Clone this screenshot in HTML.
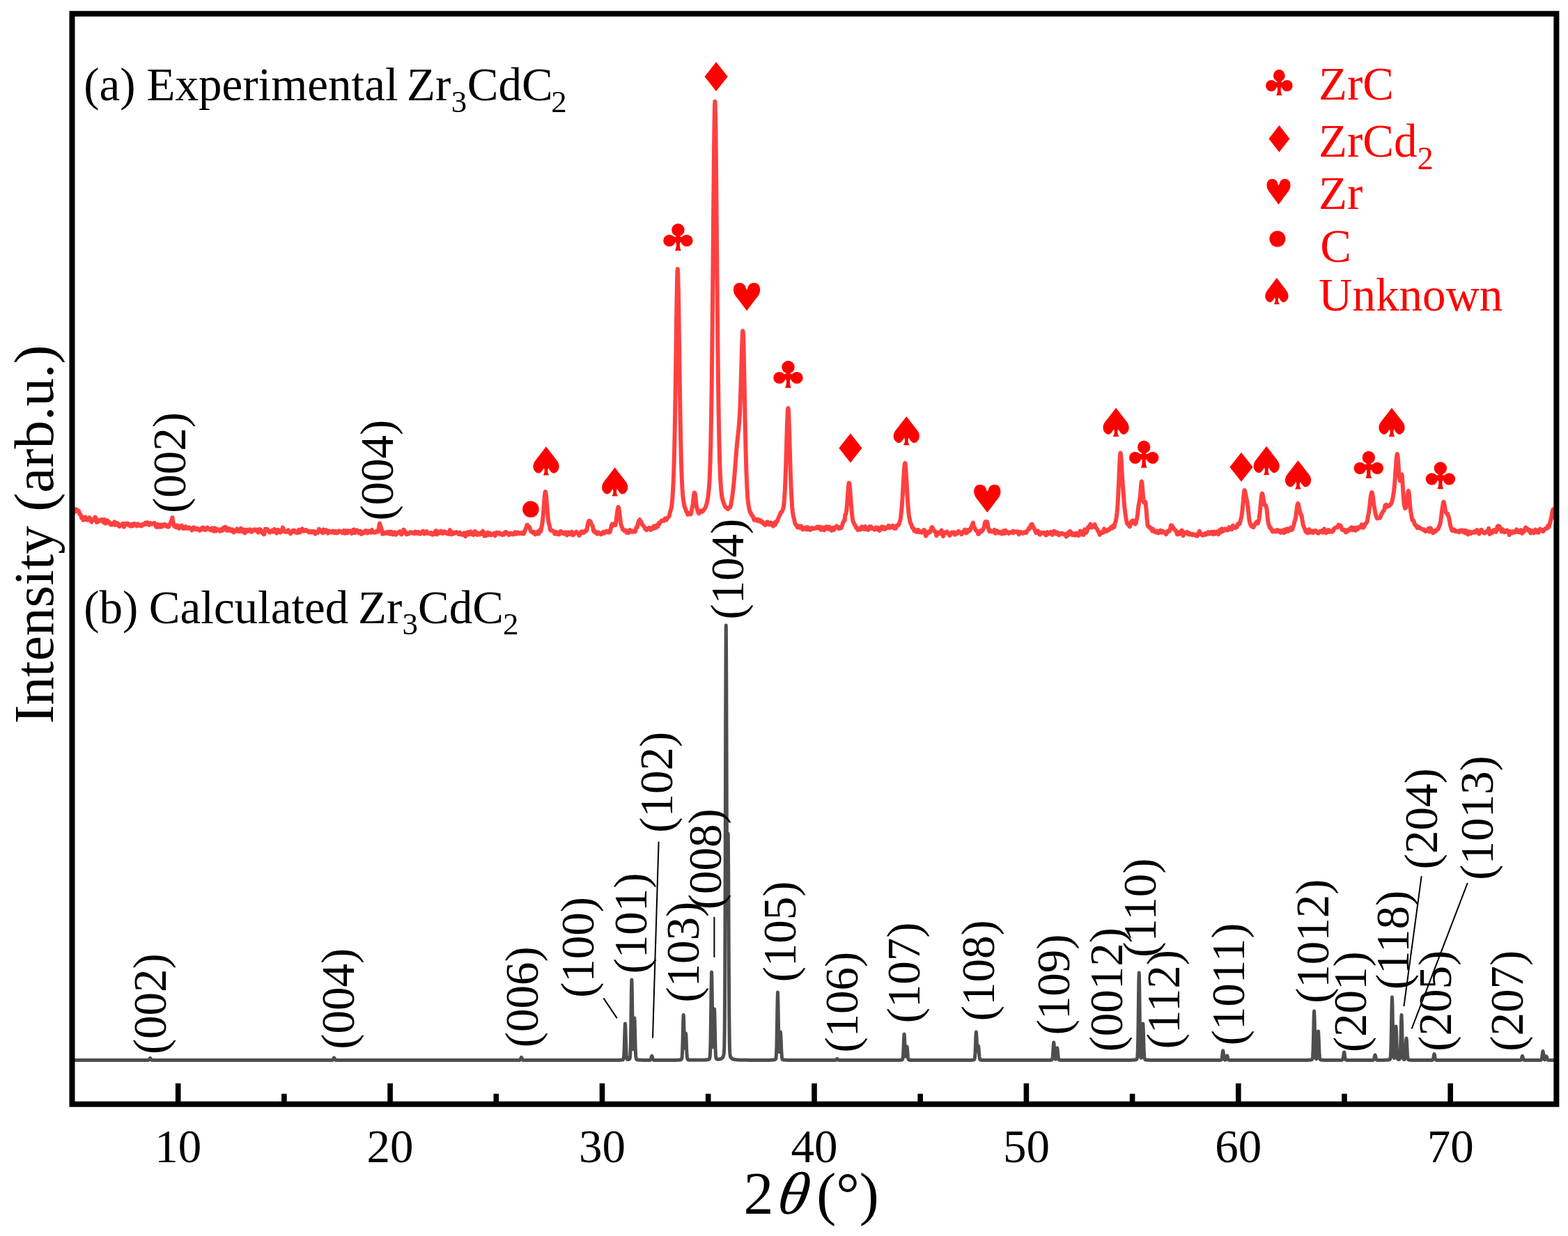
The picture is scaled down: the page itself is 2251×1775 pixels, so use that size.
<!DOCTYPE html><html><head><meta charset="utf-8"><title>XRD Zr3CdC2</title><style>html,body{margin:0;padding:0;background:#fff;}svg{display:block;}text{font-family:"Liberation Serif", serif;}</style></head><body>
<svg width="2251" height="1775" viewBox="0 0 2251 1775">
<rect width="2251" height="1775" fill="#ffffff"/>
<path d="M103.5 1522.5L107.5 1522.5L111.5 1522.5L115.5 1522.5L119.5 1522.5L123.5 1522.5L127.5 1522.5L131.5 1522.5L135.5 1522.5L139.5 1522.5L143.5 1522.5L147.5 1522.5L151.5 1522.5L155.5 1522.5L159.5 1522.5L163.5 1522.5L167.5 1522.5L171.5 1522.5L175.5 1522.5L179.5 1522.5L183.5 1522.5L187.5 1522.5L191.5 1522.5L195.5 1522.5L199.5 1522.5L201.6 1522.5L202.1 1522.5L202.6 1522.5L203.1 1522.5L203.5 1522.5L203.6 1522.5L204.1 1522.5L204.6 1522.5L205.1 1522.5L205.6 1522.5L206.1 1522.5L206.6 1522.5L207.1 1522.5L207.5 1522.5L207.6 1522.5L208.1 1522.5L208.6 1522.5L209.1 1522.5L209.6 1522.5L210.1 1522.5L210.6 1522.5L211.1 1522.5L211.5 1522.5L211.6 1522.5L212.1 1522.5L212.6 1522.5L213.1 1522.4L213.6 1522.2L214.1 1521.8L214.6 1521.0L215.1 1520.0L215.5 1519.5L215.6 1519.5L216.1 1520.0L216.6 1521.0L217.1 1521.8L217.6 1522.2L218.1 1522.4L218.6 1522.5L219.1 1522.5L219.5 1522.5L219.6 1522.5L220.1 1522.5L220.6 1522.5L221.1 1522.5L221.6 1522.5L222.1 1522.5L222.6 1522.5L223.1 1522.5L223.5 1522.5L223.6 1522.5L224.1 1522.5L224.6 1522.5L225.1 1522.5L225.6 1522.5L226.1 1522.5L226.6 1522.5L227.1 1522.5L227.5 1522.5L227.6 1522.5L228.1 1522.5L228.6 1522.5L229.1 1522.5L229.6 1522.5L231.5 1522.5L235.5 1522.5L239.5 1522.5L243.5 1522.5L247.5 1522.5L251.5 1522.5L255.5 1522.5L259.5 1522.5L263.5 1522.5L267.5 1522.5L271.5 1522.5L275.5 1522.5L279.5 1522.5L283.5 1522.5L287.5 1522.5L291.5 1522.5L295.5 1522.5L299.5 1522.5L303.5 1522.5L307.5 1522.5L311.5 1522.5L315.5 1522.5L319.5 1522.5L323.5 1522.5L327.5 1522.5L331.5 1522.5L335.5 1522.5L339.5 1522.5L343.5 1522.5L347.5 1522.5L351.5 1522.5L355.5 1522.5L359.5 1522.5L363.5 1522.5L367.5 1522.5L371.5 1522.5L375.5 1522.5L379.5 1522.5L383.5 1522.5L387.5 1522.5L391.5 1522.5L395.5 1522.5L399.5 1522.5L403.5 1522.5L407.5 1522.5L411.5 1522.5L415.5 1522.5L419.5 1522.5L423.5 1522.5L427.5 1522.5L431.5 1522.5L435.5 1522.5L439.5 1522.5L443.5 1522.5L447.5 1522.5L451.5 1522.5L455.5 1522.5L459.5 1522.5L463.5 1522.5L465.6 1522.5L466.1 1522.5L466.6 1522.5L467.1 1522.5L467.5 1522.5L467.6 1522.5L468.1 1522.5L468.6 1522.5L469.1 1522.5L469.6 1522.5L470.1 1522.5L470.6 1522.5L471.1 1522.5L471.5 1522.5L471.6 1522.5L472.1 1522.5L472.6 1522.5L473.1 1522.5L473.6 1522.5L474.1 1522.5L474.6 1522.5L475.1 1522.5L475.5 1522.5L475.6 1522.5L476.1 1522.5L476.6 1522.4L477.1 1522.4L477.6 1522.2L478.1 1521.7L478.6 1520.7L479.1 1519.6L479.5 1519.0L479.6 1519.0L480.1 1519.6L480.6 1520.7L481.1 1521.7L481.6 1522.2L482.1 1522.4L482.6 1522.4L483.1 1522.5L483.5 1522.5L483.6 1522.5L484.1 1522.5L484.6 1522.5L485.1 1522.5L485.6 1522.5L486.1 1522.5L486.6 1522.5L487.1 1522.5L487.5 1522.5L487.6 1522.5L488.1 1522.5L488.6 1522.5L489.1 1522.5L489.6 1522.5L490.1 1522.5L490.6 1522.5L491.1 1522.5L491.5 1522.5L491.6 1522.5L492.1 1522.5L492.6 1522.5L493.1 1522.5L493.6 1522.5L495.5 1522.5L499.5 1522.5L503.5 1522.5L507.5 1522.5L511.5 1522.5L515.5 1522.5L519.5 1522.5L523.5 1522.5L527.5 1522.5L531.5 1522.5L535.5 1522.5L539.5 1522.5L543.5 1522.5L547.5 1522.5L551.5 1522.5L555.5 1522.5L559.5 1522.5L563.5 1522.5L567.5 1522.5L571.5 1522.5L575.5 1522.5L579.5 1522.5L583.5 1522.5L587.5 1522.5L591.5 1522.5L595.5 1522.5L599.5 1522.5L603.5 1522.5L607.5 1522.5L611.5 1522.5L615.5 1522.5L619.5 1522.5L623.5 1522.5L627.5 1522.5L631.5 1522.5L635.5 1522.5L639.5 1522.5L643.5 1522.5L647.5 1522.5L651.5 1522.5L655.5 1522.5L659.5 1522.5L663.5 1522.5L667.5 1522.5L671.5 1522.5L675.5 1522.5L679.5 1522.5L683.5 1522.5L687.5 1522.5L691.5 1522.5L695.5 1522.5L699.5 1522.5L703.5 1522.5L707.5 1522.5L711.5 1522.5L715.5 1522.5L719.5 1522.5L723.5 1522.5L727.5 1522.5L731.5 1522.5L734.5 1522.5L735.0 1522.5L735.5 1522.5L736.0 1522.5L736.5 1522.5L737.0 1522.5L737.5 1522.5L738.0 1522.5L738.5 1522.5L739.0 1522.5L739.5 1522.5L740.0 1522.5L740.5 1522.5L741.0 1522.5L741.5 1522.5L742.0 1522.5L742.5 1522.5L743.0 1522.5L743.5 1522.5L744.0 1522.5L744.5 1522.5L745.0 1522.5L745.5 1522.4L746.0 1522.4L746.5 1522.2L747.0 1521.6L747.5 1520.4L748.0 1519.1L748.5 1518.5L749.0 1519.1L749.5 1520.4L750.0 1521.6L750.5 1522.2L751.0 1522.4L751.5 1522.4L752.0 1522.5L752.5 1522.5L753.0 1522.5L753.5 1522.5L754.0 1522.5L754.5 1522.5L755.0 1522.5L755.5 1522.5L756.0 1522.5L756.5 1522.5L757.0 1522.5L757.5 1522.5L758.0 1522.5L758.5 1522.5L759.0 1522.5L759.5 1522.5L760.0 1522.5L760.5 1522.5L761.0 1522.5L761.5 1522.5L762.0 1522.5L762.5 1522.5L763.5 1522.5L767.5 1522.5L771.5 1522.5L775.5 1522.5L779.5 1522.5L783.5 1522.5L787.5 1522.5L791.5 1522.5L795.5 1522.5L799.5 1522.5L803.5 1522.5L807.5 1522.5L811.5 1522.5L815.5 1522.5L819.5 1522.5L823.5 1522.5L827.5 1522.5L831.5 1522.5L835.5 1522.5L839.5 1522.5L843.5 1522.5L847.5 1522.5L851.5 1522.5L855.5 1522.5L859.5 1522.5L863.5 1522.5L867.5 1522.5L871.5 1522.5L875.5 1522.5L879.5 1522.4L883.5 1522.4L884.0 1522.4L884.5 1522.4L885.0 1522.4L885.5 1522.4L886.0 1522.4L886.5 1522.4L887.0 1522.4L887.5 1522.4L888.0 1522.4L888.5 1522.4L889.0 1522.3L889.5 1522.3L890.0 1522.3L890.5 1522.3L891.0 1522.3L891.5 1522.2L892.0 1522.2L892.5 1522.1L892.9 1522.1L893.0 1522.1L893.4 1522.0L893.5 1522.0L893.9 1521.9L894.0 1521.9L894.4 1521.7L894.5 1521.6L894.9 1521.0L895.0 1520.7L895.4 1518.7L895.5 1517.9L895.9 1512.2L896.0 1510.1L896.4 1498.9L896.5 1495.5L896.8 1484.9L896.9 1481.4L897.0 1478.3L897.3 1471.5L897.4 1470.4L897.5 1470.0L897.8 1473.2L897.9 1475.5L898.0 1478.3L898.3 1488.3L898.4 1491.9L898.5 1495.4L898.8 1504.9L898.9 1507.6L899.0 1509.9L899.3 1515.4L899.4 1516.6L899.5 1517.7L899.8 1519.8L899.9 1520.2L900.0 1520.5L900.3 1521.1L900.4 1521.2L900.5 1521.3L900.8 1521.5L900.9 1521.5L901.0 1521.5L901.3 1521.5L901.4 1521.5L901.5 1521.5L901.8 1521.5L901.9 1521.5L902.0 1521.5L902.3 1521.5L902.4 1521.5L902.5 1521.4L902.8 1521.3L902.9 1521.3L903.0 1521.3L903.3 1521.1L903.4 1521.1L903.5 1521.0L903.8 1520.7L903.9 1520.5L904.0 1520.3L904.3 1519.2L904.4 1518.6L904.5 1517.9L904.8 1514.2L904.9 1512.3L905.0 1509.9L905.3 1499.8L905.4 1495.2L905.5 1489.9L905.8 1470.6L905.9 1463.1L906.0 1455.4L906.3 1432.2L906.4 1425.3L906.5 1419.1L906.8 1407.8L906.9 1407.0L907.0 1407.8L907.3 1419.0L907.4 1425.0L907.5 1431.9L907.8 1454.8L907.9 1462.5L908.0 1469.8L908.3 1488.4L908.4 1493.3L908.5 1497.4L908.8 1505.1L908.9 1506.2L909.0 1506.7L909.3 1504.2L909.4 1502.2L909.5 1499.8L909.8 1490.0L909.9 1486.2L910.0 1482.3L910.3 1471.1L910.4 1468.0L910.5 1465.5L910.8 1462.0L910.9 1462.5L911.0 1463.7L911.3 1471.6L911.4 1475.2L911.5 1479.1L911.8 1491.3L911.9 1495.2L912.3 1508.0L912.4 1510.4L912.8 1516.9L912.9 1517.9L913.3 1520.3L913.4 1520.6L913.8 1521.3L913.9 1521.4L914.3 1521.6L914.4 1521.7L914.8 1521.8L914.9 1521.8L915.3 1521.9L915.4 1521.9L915.5 1522.0L915.8 1522.0L915.9 1522.0L916.3 1522.1L916.4 1522.1L916.8 1522.1L916.9 1522.1L917.3 1522.2L917.4 1522.2L917.8 1522.2L917.9 1522.2L918.3 1522.2L918.4 1522.2L918.8 1522.3L918.9 1522.3L919.3 1522.3L919.4 1522.3L919.5 1522.3L919.8 1522.3L919.9 1522.3L920.3 1522.3L920.4 1522.3L920.8 1522.3L920.9 1522.3L921.3 1522.3L921.8 1522.3L922.3 1522.4L922.8 1522.4L923.3 1522.4L923.5 1522.4L923.8 1522.4L924.3 1522.4L924.8 1522.4L925.3 1522.4L925.8 1522.4L926.3 1522.4L926.8 1522.4L927.3 1522.4L927.5 1522.4L927.8 1522.4L928.3 1522.4L928.8 1522.4L929.3 1522.4L929.8 1522.4L930.3 1522.4L930.8 1522.4L931.3 1522.4L931.5 1522.4L931.8 1522.4L932.3 1522.4L932.8 1522.4L933.3 1522.3L933.8 1521.9L934.3 1521.0L934.8 1519.4L935.3 1517.4L935.5 1516.9L935.8 1516.5L936.3 1517.4L936.8 1519.4L937.3 1521.1L937.8 1521.9L938.3 1522.3L938.8 1522.4L939.3 1522.4L939.5 1522.4L939.8 1522.4L940.3 1522.4L940.8 1522.4L941.3 1522.4L941.8 1522.4L942.3 1522.4L942.8 1522.4L943.3 1522.4L943.5 1522.4L943.8 1522.4L944.3 1522.4L944.8 1522.4L945.3 1522.4L945.8 1522.4L946.3 1522.4L946.8 1522.4L947.3 1522.4L947.5 1522.4L947.8 1522.4L948.3 1522.4L948.8 1522.5L949.3 1522.5L949.8 1522.5L951.5 1522.5L955.5 1522.4L959.5 1522.4L963.5 1522.4L967.2 1522.4L967.5 1522.4L967.7 1522.4L968.2 1522.4L968.7 1522.4L969.2 1522.4L969.7 1522.4L970.2 1522.4L970.5 1522.4L970.7 1522.4L971.0 1522.4L971.2 1522.4L971.5 1522.3L971.7 1522.3L972.0 1522.3L972.2 1522.3L972.5 1522.3L972.7 1522.3L973.0 1522.3L973.2 1522.3L973.5 1522.3L973.7 1522.3L974.0 1522.3L974.2 1522.3L974.5 1522.2L974.7 1522.2L975.0 1522.2L975.2 1522.2L975.5 1522.2L975.7 1522.1L976.0 1522.1L976.2 1522.1L976.5 1522.0L976.7 1522.0L977.0 1521.9L977.2 1521.9L977.5 1521.8L977.7 1521.7L978.0 1521.6L978.2 1521.4L978.5 1520.9L978.7 1520.3L979.0 1518.7L979.2 1516.7L979.5 1511.9L979.7 1507.1L980.0 1497.2L980.2 1489.1L980.5 1475.9L980.7 1467.8L981.0 1459.3L981.2 1457.5L981.5 1461.3L981.7 1467.4L982.0 1479.4L982.2 1487.6L982.5 1497.8L982.7 1502.4L983.0 1505.2L983.2 1504.4L983.5 1500.1L983.7 1496.0L984.0 1489.5L984.2 1486.1L984.5 1484.0L984.7 1485.1L985.0 1490.2L985.2 1494.9L985.5 1502.7L985.7 1507.4L986.0 1513.3L986.2 1516.1L986.5 1518.9L986.7 1520.1L987.0 1521.0L987.2 1521.4L987.5 1521.7L987.7 1521.8L988.0 1521.9L988.2 1522.0L988.5 1522.0L988.7 1522.0L989.0 1522.1L989.2 1522.1L989.5 1522.1L989.7 1522.2L990.0 1522.2L990.2 1522.2L990.5 1522.2L990.7 1522.2L991.0 1522.2L991.2 1522.2L991.5 1522.3L991.7 1522.3L992.0 1522.3L992.2 1522.3L992.5 1522.3L992.7 1522.3L993.0 1522.3L993.2 1522.3L993.5 1522.3L993.7 1522.3L994.0 1522.3L994.2 1522.3L994.5 1522.3L994.7 1522.3L995.0 1522.3L995.2 1522.3L995.5 1522.3L996.0 1522.3L996.5 1522.3L997.0 1522.3L997.5 1522.3L998.0 1522.3L998.5 1522.3L999.5 1522.3L1003.5 1522.3L1007.5 1522.3L1007.6 1522.3L1008.1 1522.3L1008.6 1522.3L1009.1 1522.2L1009.6 1522.2L1010.1 1522.2L1010.6 1522.2L1011.1 1522.2L1011.5 1522.2L1011.6 1522.2L1012.0 1522.1L1012.1 1522.1L1012.5 1522.1L1012.6 1522.1L1013.0 1522.1L1013.1 1522.1L1013.5 1522.1L1013.6 1522.0L1014.0 1522.0L1014.1 1522.0L1014.5 1522.0L1014.6 1522.0L1015.0 1521.9L1015.1 1521.9L1015.5 1521.8L1015.6 1521.8L1016.0 1521.7L1016.1 1521.7L1016.5 1521.6L1016.6 1521.6L1017.0 1521.5L1017.1 1521.5L1017.5 1521.3L1017.6 1521.2L1018.0 1521.0L1018.1 1520.9L1018.5 1520.5L1018.6 1520.3L1019.0 1518.8L1019.1 1518.2L1019.5 1513.3L1019.6 1511.2L1020.0 1497.5L1020.1 1492.5L1020.5 1465.6L1020.6 1457.4L1021.0 1423.6L1021.1 1416.0L1021.5 1396.9L1021.6 1396.0L1022.0 1409.0L1022.1 1415.7L1022.5 1448.2L1022.6 1456.5L1023.0 1484.8L1023.1 1490.0L1023.5 1502.6L1023.6 1503.7L1024.0 1500.6L1024.1 1498.1L1024.5 1483.1L1024.6 1478.4L1025.0 1460.1L1025.1 1456.3L1025.5 1449.0L1025.6 1449.5L1026.0 1460.6L1026.1 1465.0L1026.5 1484.4L1026.6 1489.1L1027.0 1504.6L1027.1 1507.5L1027.5 1515.4L1027.6 1516.6L1028.0 1519.4L1028.1 1519.8L1028.3 1520.3L1028.5 1520.6L1028.6 1520.7L1028.8 1520.8L1029.0 1520.9L1029.1 1521.0L1029.3 1521.0L1029.5 1521.1L1029.6 1521.1L1029.8 1521.1L1030.0 1521.2L1030.1 1521.2L1030.3 1521.2L1030.5 1521.2L1030.6 1521.2L1030.8 1521.2L1031.0 1521.2L1031.1 1521.2L1031.2 1521.2L1031.3 1521.2L1031.5 1521.2L1031.6 1521.2L1031.7 1521.2L1031.8 1521.2L1032.0 1521.2L1032.1 1521.2L1032.2 1521.2L1032.3 1521.2L1032.5 1521.1L1032.6 1521.1L1032.7 1521.1L1032.8 1521.1L1033.0 1521.1L1033.1 1521.1L1033.2 1521.0L1033.3 1521.0L1033.5 1521.0L1033.6 1520.9L1033.7 1520.9L1033.8 1520.9L1034.0 1520.8L1034.1 1520.8L1034.2 1520.8L1034.3 1520.8L1034.5 1520.7L1034.6 1520.7L1034.7 1520.6L1034.8 1520.6L1035.0 1520.5L1035.1 1520.5L1035.2 1520.4L1035.3 1520.4L1035.5 1520.3L1035.6 1520.2L1035.7 1520.2L1035.8 1520.1L1036.0 1520.0L1036.2 1519.8L1036.3 1519.8L1036.5 1519.6L1036.7 1519.4L1036.8 1519.3L1037.0 1519.1L1037.2 1518.9L1037.3 1518.8L1037.5 1518.5L1037.7 1518.2L1037.8 1518.0L1038.0 1517.7L1038.2 1517.3L1038.3 1517.0L1038.5 1516.5L1038.7 1515.9L1038.8 1515.5L1039.0 1514.5L1039.2 1513.2L1039.3 1512.2L1039.5 1509.6L1039.7 1505.2L1039.8 1502.0L1040.2 1477.8L1040.3 1467.6L1040.7 1400.1L1040.8 1375.3L1041.2 1242.4L1041.3 1202.2L1041.7 1035.4L1041.8 997.9L1042.2 902.9L1042.3 898.0L1042.7 958.5L1042.8 989.4L1043.2 1135.9L1043.3 1171.1L1043.5 1232.0L1043.7 1275.1L1043.8 1288.9L1044.2 1294.8L1044.3 1286.2L1044.7 1234.0L1044.8 1221.2L1045.2 1197.0L1045.3 1200.3L1045.7 1250.7L1045.8 1270.1L1046.2 1355.9L1046.3 1376.5L1046.7 1444.7L1046.8 1457.5L1047.2 1492.2L1047.3 1497.6L1047.5 1505.3L1047.7 1510.2L1047.8 1511.9L1048.2 1515.7L1048.3 1516.2L1048.7 1517.6L1048.8 1517.8L1049.2 1518.5L1049.3 1518.7L1049.7 1519.2L1049.8 1519.3L1050.2 1519.7L1050.3 1519.8L1050.7 1520.1L1050.8 1520.2L1051.2 1520.4L1051.3 1520.5L1051.5 1520.6L1051.7 1520.7L1051.8 1520.7L1052.2 1520.9L1052.3 1520.9L1052.7 1521.1L1052.8 1521.1L1053.2 1521.2L1053.3 1521.2L1053.7 1521.3L1053.8 1521.4L1054.2 1521.4L1054.3 1521.5L1054.7 1521.5L1054.8 1521.6L1055.2 1521.6L1055.3 1521.6L1055.5 1521.7L1055.7 1521.7L1055.8 1521.7L1056.2 1521.7L1056.3 1521.8L1056.7 1521.8L1057.2 1521.9L1057.7 1521.9L1058.2 1521.9L1058.7 1522.0L1059.2 1522.0L1059.5 1522.0L1063.5 1522.2L1067.5 1522.3L1071.5 1522.3L1075.5 1522.4L1079.5 1522.4L1083.5 1522.4L1087.5 1522.4L1091.5 1522.4L1095.5 1522.4L1099.5 1522.4L1102.5 1522.4L1103.0 1522.4L1103.5 1522.4L1104.0 1522.4L1104.5 1522.4L1105.0 1522.4L1105.5 1522.3L1106.0 1522.3L1106.5 1522.3L1107.0 1522.3L1107.5 1522.3L1108.0 1522.3L1108.5 1522.2L1109.0 1522.2L1109.5 1522.2L1110.0 1522.1L1110.5 1522.1L1111.0 1522.0L1111.5 1521.9L1112.0 1521.8L1112.5 1521.7L1113.0 1521.4L1113.5 1521.0L1114.0 1519.4L1114.5 1514.0L1115.0 1499.5L1115.5 1472.4L1116.0 1440.4L1116.5 1425.0L1117.0 1440.3L1117.5 1472.0L1118.0 1498.5L1118.5 1510.7L1119.0 1510.2L1119.5 1500.6L1120.0 1488.1L1120.5 1482.0L1121.0 1488.4L1121.5 1501.6L1122.0 1512.8L1122.5 1518.7L1123.0 1521.0L1123.5 1521.7L1124.0 1521.9L1124.5 1522.0L1125.0 1522.1L1125.5 1522.1L1126.0 1522.2L1126.5 1522.2L1127.0 1522.3L1127.5 1522.3L1128.0 1522.3L1128.5 1522.3L1129.0 1522.3L1129.5 1522.3L1130.0 1522.4L1130.5 1522.4L1131.0 1522.4L1131.5 1522.4L1132.0 1522.4L1132.5 1522.4L1133.0 1522.4L1133.5 1522.4L1134.0 1522.4L1134.5 1522.4L1135.5 1522.4L1139.5 1522.4L1143.5 1522.5L1147.5 1522.5L1151.5 1522.5L1155.5 1522.5L1159.5 1522.5L1163.5 1522.5L1167.5 1522.5L1171.5 1522.5L1175.5 1522.5L1179.5 1522.5L1183.5 1522.5L1187.5 1522.5L1187.8 1522.5L1188.3 1522.5L1188.8 1522.5L1189.3 1522.5L1189.8 1522.5L1190.3 1522.5L1190.8 1522.5L1191.3 1522.5L1191.5 1522.5L1191.8 1522.5L1192.3 1522.5L1192.8 1522.5L1193.3 1522.5L1193.8 1522.5L1194.3 1522.5L1194.8 1522.5L1195.3 1522.5L1195.5 1522.5L1195.8 1522.5L1196.3 1522.5L1196.8 1522.5L1197.3 1522.5L1197.8 1522.5L1198.3 1522.5L1198.8 1522.5L1199.3 1522.4L1199.5 1522.4L1199.8 1522.3L1200.3 1522.0L1200.8 1521.5L1201.3 1520.8L1201.8 1520.5L1202.3 1520.8L1202.8 1521.5L1203.3 1522.0L1203.5 1522.2L1203.8 1522.3L1204.3 1522.4L1204.8 1522.5L1205.3 1522.5L1205.8 1522.5L1206.3 1522.5L1206.8 1522.5L1207.3 1522.5L1207.5 1522.5L1207.8 1522.5L1208.3 1522.5L1208.8 1522.5L1209.3 1522.5L1209.8 1522.5L1210.3 1522.5L1210.8 1522.5L1211.3 1522.5L1211.5 1522.5L1211.8 1522.5L1212.3 1522.5L1212.8 1522.5L1213.3 1522.5L1213.8 1522.5L1214.3 1522.5L1214.8 1522.5L1215.3 1522.5L1215.5 1522.5L1215.8 1522.5L1219.5 1522.5L1223.5 1522.5L1227.5 1522.5L1231.5 1522.5L1235.5 1522.5L1239.5 1522.5L1243.5 1522.5L1247.5 1522.5L1251.5 1522.5L1255.5 1522.5L1259.5 1522.5L1263.5 1522.5L1267.5 1522.5L1271.5 1522.5L1275.5 1522.5L1279.5 1522.5L1283.5 1522.5L1284.1 1522.5L1284.6 1522.5L1285.1 1522.5L1285.6 1522.5L1286.1 1522.5L1286.6 1522.5L1287.1 1522.4L1287.5 1522.4L1287.6 1522.4L1288.0 1522.4L1288.1 1522.4L1288.5 1522.4L1288.6 1522.4L1289.0 1522.4L1289.1 1522.4L1289.5 1522.4L1289.6 1522.4L1290.0 1522.4L1290.1 1522.4L1290.5 1522.4L1290.6 1522.4L1291.0 1522.4L1291.1 1522.4L1291.5 1522.4L1291.6 1522.4L1292.0 1522.4L1292.1 1522.3L1292.5 1522.3L1292.6 1522.3L1293.0 1522.3L1293.1 1522.3L1293.5 1522.3L1293.6 1522.2L1294.0 1522.2L1294.1 1522.2L1294.5 1522.1L1294.6 1522.1L1295.0 1522.0L1295.1 1521.9L1295.5 1521.5L1295.6 1521.3L1296.0 1519.8L1296.1 1519.2L1296.5 1515.2L1296.6 1513.7L1297.0 1505.7L1297.1 1503.2L1297.5 1493.2L1297.6 1490.9L1298.0 1485.3L1298.1 1485.0L1298.5 1488.9L1298.6 1490.9L1299.0 1500.5L1299.1 1503.0L1299.5 1511.4L1299.6 1513.0L1300.0 1516.9L1300.1 1517.2L1300.5 1516.6L1300.6 1516.0L1301.0 1512.0L1301.1 1510.8L1301.5 1505.9L1301.6 1504.9L1302.0 1503.0L1302.1 1503.1L1302.5 1506.1L1302.6 1507.3L1303.0 1512.5L1303.1 1513.7L1303.5 1517.8L1303.6 1518.6L1304.0 1520.7L1304.1 1521.0L1304.5 1521.8L1304.6 1521.9L1305.0 1522.1L1305.1 1522.1L1305.5 1522.2L1305.6 1522.2L1306.0 1522.3L1306.1 1522.3L1306.5 1522.3L1306.6 1522.3L1307.0 1522.3L1307.1 1522.4L1307.5 1522.4L1307.6 1522.4L1308.0 1522.4L1308.1 1522.4L1308.5 1522.4L1308.6 1522.4L1309.0 1522.4L1309.1 1522.4L1309.5 1522.4L1309.6 1522.4L1310.0 1522.4L1310.1 1522.4L1310.5 1522.4L1310.6 1522.4L1311.0 1522.4L1311.1 1522.4L1311.5 1522.4L1311.6 1522.4L1312.0 1522.4L1312.1 1522.4L1312.5 1522.5L1313.0 1522.5L1313.5 1522.5L1314.0 1522.5L1314.5 1522.5L1315.0 1522.5L1315.5 1522.5L1316.0 1522.5L1319.5 1522.5L1323.5 1522.5L1327.5 1522.5L1331.5 1522.5L1335.5 1522.5L1339.5 1522.5L1343.5 1522.5L1347.5 1522.5L1351.5 1522.5L1355.5 1522.5L1359.5 1522.5L1363.5 1522.5L1367.5 1522.5L1371.5 1522.5L1375.5 1522.5L1379.5 1522.5L1383.5 1522.5L1387.4 1522.5L1387.5 1522.5L1387.9 1522.5L1388.4 1522.5L1388.9 1522.5L1389.4 1522.5L1389.9 1522.4L1390.4 1522.4L1390.5 1522.4L1390.9 1522.4L1391.0 1522.4L1391.4 1522.4L1391.5 1522.4L1391.9 1522.4L1392.0 1522.4L1392.4 1522.4L1392.5 1522.4L1392.9 1522.4L1393.0 1522.4L1393.4 1522.4L1393.5 1522.4L1393.9 1522.4L1394.0 1522.4L1394.4 1522.4L1394.5 1522.4L1394.9 1522.4L1395.0 1522.3L1395.4 1522.3L1395.5 1522.3L1395.9 1522.3L1396.0 1522.3L1396.4 1522.3L1396.5 1522.3L1396.9 1522.2L1397.0 1522.2L1397.4 1522.2L1397.5 1522.1L1397.9 1522.1L1398.0 1522.0L1398.4 1521.8L1398.5 1521.8L1398.9 1521.2L1399.0 1520.9L1399.4 1518.9L1399.5 1518.1L1399.9 1513.0L1400.0 1511.1L1400.4 1501.7L1400.5 1499.0L1400.9 1488.4L1401.0 1486.3L1401.4 1482.0L1401.5 1482.3L1401.9 1488.1L1402.0 1490.4L1402.4 1500.5L1402.5 1502.7L1402.9 1509.2L1403.0 1510.0L1403.4 1510.1L1403.5 1509.5L1403.9 1505.7L1404.0 1504.7L1404.4 1502.1L1404.5 1502.0L1404.9 1504.2L1405.0 1505.3L1405.4 1510.6L1405.5 1512.0L1405.9 1516.7L1406.0 1517.6L1406.4 1520.2L1406.5 1520.6L1406.9 1521.6L1407.0 1521.7L1407.4 1522.0L1407.5 1522.1L1407.9 1522.2L1408.0 1522.2L1408.4 1522.2L1408.5 1522.3L1408.9 1522.3L1409.0 1522.3L1409.4 1522.3L1409.5 1522.3L1409.9 1522.3L1410.0 1522.4L1410.4 1522.4L1410.5 1522.4L1410.9 1522.4L1411.0 1522.4L1411.4 1522.4L1411.5 1522.4L1411.9 1522.4L1412.0 1522.4L1412.4 1522.4L1412.5 1522.4L1412.9 1522.4L1413.0 1522.4L1413.4 1522.4L1413.5 1522.4L1413.9 1522.4L1414.0 1522.4L1414.4 1522.4L1414.5 1522.4L1414.9 1522.4L1415.0 1522.4L1415.4 1522.5L1415.5 1522.5L1416.0 1522.5L1416.5 1522.5L1417.0 1522.5L1417.5 1522.5L1418.0 1522.5L1418.5 1522.5L1419.5 1522.5L1423.5 1522.5L1427.5 1522.5L1431.5 1522.5L1435.5 1522.5L1439.5 1522.5L1443.5 1522.5L1447.5 1522.5L1451.5 1522.5L1455.5 1522.5L1459.5 1522.5L1463.5 1522.5L1467.5 1522.5L1471.5 1522.5L1475.5 1522.5L1479.5 1522.5L1483.5 1522.5L1487.5 1522.5L1491.5 1522.5L1495.5 1522.5L1498.8 1522.5L1499.3 1522.5L1499.5 1522.5L1499.8 1522.5L1500.3 1522.5L1500.8 1522.5L1501.3 1522.5L1501.8 1522.5L1502.3 1522.5L1502.8 1522.5L1503.3 1522.5L1503.5 1522.4L1503.7 1522.4L1503.8 1522.4L1504.2 1522.4L1504.3 1522.4L1504.7 1522.4L1504.8 1522.4L1505.2 1522.4L1505.3 1522.4L1505.7 1522.4L1505.8 1522.4L1506.2 1522.4L1506.3 1522.4L1506.7 1522.4L1506.8 1522.4L1507.2 1522.4L1507.3 1522.4L1507.5 1522.4L1507.7 1522.4L1507.8 1522.4L1508.2 1522.3L1508.3 1522.3L1508.7 1522.3L1508.8 1522.3L1509.2 1522.2L1509.3 1522.2L1509.7 1522.1L1509.8 1522.1L1510.2 1521.8L1510.3 1521.7L1510.7 1520.7L1510.8 1520.3L1511.2 1517.5L1511.3 1516.5L1511.5 1514.0L1511.7 1511.0L1511.8 1509.4L1512.2 1502.6L1512.3 1501.0L1512.7 1497.2L1512.8 1497.0L1513.2 1499.7L1513.3 1501.0L1513.7 1507.6L1513.8 1509.3L1514.2 1515.2L1514.3 1516.4L1514.7 1519.5L1514.8 1520.0L1515.2 1521.0L1515.3 1521.1L1515.5 1521.0L1515.7 1520.6L1515.8 1520.3L1516.2 1518.2L1516.3 1517.4L1516.7 1513.4L1516.8 1512.2L1517.2 1507.7L1517.3 1506.8L1517.7 1505.0L1517.8 1505.1L1518.2 1507.8L1518.3 1508.8L1518.7 1513.5L1518.8 1514.6L1519.2 1518.3L1519.3 1519.0L1519.5 1520.2L1519.7 1520.9L1519.8 1521.2L1520.2 1521.9L1520.3 1522.0L1520.7 1522.2L1520.8 1522.2L1521.2 1522.3L1521.3 1522.3L1521.7 1522.3L1521.8 1522.3L1522.2 1522.4L1522.3 1522.4L1522.7 1522.4L1522.8 1522.4L1523.2 1522.4L1523.3 1522.4L1523.5 1522.4L1523.7 1522.4L1523.8 1522.4L1524.2 1522.4L1524.3 1522.4L1524.7 1522.4L1524.8 1522.4L1525.2 1522.4L1525.3 1522.4L1525.7 1522.4L1525.8 1522.4L1526.2 1522.4L1526.3 1522.5L1526.7 1522.5L1526.8 1522.5L1527.2 1522.5L1527.5 1522.5L1527.7 1522.5L1528.2 1522.5L1528.7 1522.5L1529.2 1522.5L1529.7 1522.5L1530.2 1522.5L1530.7 1522.5L1531.2 1522.5L1531.5 1522.5L1531.7 1522.5L1535.5 1522.5L1539.5 1522.5L1543.5 1522.5L1547.5 1522.5L1551.5 1522.5L1555.5 1522.5L1559.5 1522.5L1563.5 1522.5L1567.5 1522.5L1571.5 1522.5L1575.5 1522.5L1579.5 1522.5L1583.5 1522.5L1587.5 1522.5L1591.5 1522.5L1595.5 1522.5L1599.5 1522.5L1603.5 1522.5L1607.5 1522.5L1611.5 1522.5L1615.5 1522.4L1619.5 1522.4L1621.2 1522.4L1621.7 1522.4L1622.2 1522.4L1622.7 1522.4L1623.2 1522.4L1623.5 1522.4L1623.7 1522.4L1624.2 1522.3L1624.7 1522.3L1625.2 1522.3L1625.7 1522.3L1626.2 1522.3L1626.7 1522.3L1626.8 1522.2L1627.2 1522.2L1627.3 1522.2L1627.5 1522.2L1627.7 1522.2L1627.8 1522.2L1628.2 1522.1L1628.3 1522.1L1628.7 1522.1L1628.8 1522.1L1629.2 1522.0L1629.3 1522.0L1629.7 1521.9L1629.8 1521.9L1630.2 1521.8L1630.3 1521.8L1630.7 1521.7L1630.8 1521.7L1631.2 1521.5L1631.3 1521.5L1631.5 1521.4L1631.7 1521.2L1631.8 1521.1L1632.2 1520.6L1632.3 1520.3L1632.7 1518.5L1632.8 1517.7L1633.2 1511.6L1633.3 1509.1L1633.7 1493.0L1633.8 1487.3L1634.2 1458.1L1634.3 1449.6L1634.7 1416.9L1634.8 1410.2L1635.2 1397.0L1635.3 1397.9L1635.5 1404.6L1635.7 1416.8L1635.8 1424.3L1636.2 1457.9L1636.3 1466.0L1636.7 1492.8L1636.8 1497.7L1637.2 1511.2L1637.3 1513.3L1637.7 1518.0L1637.8 1518.5L1638.2 1519.3L1638.3 1519.2L1638.7 1517.7L1638.8 1516.9L1639.2 1511.5L1639.3 1509.4L1639.5 1504.5L1639.7 1498.4L1639.8 1495.1L1640.2 1481.2L1640.3 1478.1L1640.7 1470.3L1640.8 1470.0L1641.2 1475.5L1641.3 1478.3L1641.7 1491.9L1641.8 1495.5L1642.2 1507.6L1642.3 1510.0L1642.7 1516.7L1642.8 1517.8L1643.2 1520.3L1643.3 1520.7L1643.5 1521.1L1643.7 1521.4L1643.8 1521.5L1644.2 1521.8L1644.3 1521.8L1644.7 1521.9L1644.8 1521.9L1645.2 1522.0L1645.3 1522.0L1645.7 1522.1L1645.8 1522.1L1646.2 1522.2L1646.3 1522.2L1646.7 1522.2L1646.8 1522.2L1647.2 1522.2L1647.3 1522.2L1647.5 1522.3L1647.7 1522.3L1647.8 1522.3L1648.2 1522.3L1648.3 1522.3L1648.7 1522.3L1648.8 1522.3L1649.2 1522.3L1649.3 1522.3L1649.8 1522.3L1650.3 1522.4L1650.8 1522.4L1651.3 1522.4L1651.5 1522.4L1651.8 1522.4L1652.3 1522.4L1652.8 1522.4L1653.3 1522.4L1653.8 1522.4L1654.3 1522.4L1654.8 1522.4L1655.5 1522.4L1659.5 1522.5L1663.5 1522.5L1667.5 1522.5L1671.5 1522.5L1675.5 1522.5L1679.5 1522.5L1683.5 1522.5L1687.5 1522.5L1691.5 1522.5L1695.5 1522.5L1699.5 1522.5L1703.5 1522.5L1707.5 1522.5L1711.5 1522.5L1715.5 1522.5L1719.5 1522.5L1723.5 1522.5L1727.5 1522.5L1731.5 1522.5L1735.5 1522.5L1739.5 1522.5L1741.7 1522.5L1742.2 1522.5L1742.7 1522.5L1743.2 1522.5L1743.5 1522.5L1743.7 1522.5L1744.2 1522.5L1744.7 1522.5L1745.2 1522.5L1745.7 1522.5L1746.2 1522.5L1746.7 1522.5L1747.2 1522.5L1747.5 1522.5L1747.6 1522.5L1747.7 1522.5L1748.1 1522.5L1748.2 1522.5L1748.6 1522.5L1748.7 1522.5L1749.1 1522.5L1749.2 1522.5L1749.6 1522.4L1749.7 1522.4L1750.1 1522.4L1750.2 1522.4L1750.6 1522.4L1750.7 1522.4L1751.1 1522.4L1751.2 1522.4L1751.5 1522.4L1751.6 1522.4L1751.7 1522.4L1752.1 1522.4L1752.2 1522.4L1752.6 1522.3L1752.7 1522.3L1753.1 1522.1L1753.2 1522.1L1753.6 1521.5L1753.7 1521.3L1754.1 1519.9L1754.2 1519.3L1754.6 1516.4L1754.7 1515.6L1755.1 1511.9L1755.2 1511.1L1755.5 1509.4L1755.6 1509.1L1755.7 1509.0L1756.1 1510.4L1756.2 1511.1L1756.6 1514.6L1756.7 1515.5L1757.1 1518.7L1757.2 1519.3L1757.6 1521.0L1757.7 1521.3L1758.1 1521.9L1758.2 1522.0L1758.6 1522.2L1758.7 1522.2L1759.1 1522.2L1759.2 1522.1L1759.5 1521.9L1759.6 1521.8L1759.7 1521.7L1760.1 1520.9L1760.2 1520.6L1760.6 1519.1L1760.7 1518.7L1761.1 1517.0L1761.2 1516.7L1761.6 1516.0L1761.7 1516.0L1762.1 1517.0L1762.2 1517.4L1762.6 1519.2L1762.7 1519.6L1763.1 1521.0L1763.2 1521.2L1763.5 1521.8L1763.6 1521.9L1763.7 1522.0L1764.1 1522.3L1764.2 1522.3L1764.6 1522.4L1764.7 1522.4L1765.1 1522.4L1765.2 1522.4L1765.6 1522.4L1765.7 1522.4L1766.1 1522.4L1766.2 1522.4L1766.6 1522.5L1766.7 1522.5L1767.1 1522.5L1767.2 1522.5L1767.5 1522.5L1767.6 1522.5L1767.7 1522.5L1768.1 1522.5L1768.2 1522.5L1768.6 1522.5L1768.7 1522.5L1769.1 1522.5L1769.2 1522.5L1769.6 1522.5L1769.7 1522.5L1770.1 1522.5L1770.6 1522.5L1771.1 1522.5L1771.5 1522.5L1771.6 1522.5L1772.1 1522.5L1772.6 1522.5L1773.1 1522.5L1773.6 1522.5L1774.1 1522.5L1774.6 1522.5L1775.1 1522.5L1775.5 1522.5L1775.6 1522.5L1779.5 1522.5L1783.5 1522.5L1787.5 1522.5L1791.5 1522.5L1795.5 1522.5L1799.5 1522.5L1803.5 1522.5L1807.5 1522.5L1811.5 1522.5L1815.5 1522.5L1819.5 1522.5L1823.5 1522.5L1827.5 1522.5L1831.5 1522.5L1835.5 1522.5L1839.5 1522.5L1843.5 1522.5L1847.5 1522.5L1851.5 1522.5L1855.5 1522.5L1859.5 1522.5L1863.5 1522.5L1867.5 1522.5L1871.5 1522.4L1872.6 1522.4L1873.1 1522.4L1873.6 1522.4L1874.1 1522.4L1874.6 1522.4L1875.1 1522.4L1875.5 1522.4L1875.6 1522.4L1876.1 1522.4L1876.6 1522.4L1877.1 1522.4L1877.6 1522.4L1878.1 1522.4L1878.5 1522.3L1878.6 1522.3L1879.0 1522.3L1879.1 1522.3L1879.5 1522.3L1879.6 1522.3L1880.0 1522.3L1880.1 1522.3L1880.5 1522.2L1880.6 1522.2L1881.0 1522.2L1881.1 1522.2L1881.5 1522.1L1881.6 1522.1L1882.0 1522.1L1882.1 1522.0L1882.5 1522.0L1882.6 1521.9L1883.0 1521.8L1883.1 1521.8L1883.5 1521.5L1883.6 1521.4L1884.0 1520.6L1884.1 1520.3L1884.5 1517.5L1884.6 1516.4L1885.0 1508.7L1885.1 1505.9L1885.5 1490.8L1885.6 1486.3L1886.0 1467.4L1886.1 1463.2L1886.5 1452.5L1886.6 1452.0L1887.0 1459.4L1887.1 1463.1L1887.5 1481.5L1887.6 1486.2L1888.0 1502.6L1888.1 1505.7L1888.5 1514.7L1888.6 1516.1L1889.0 1519.5L1889.1 1519.9L1889.5 1520.7L1889.6 1520.8L1890.0 1520.5L1890.1 1520.3L1890.5 1518.4L1890.6 1517.6L1891.0 1512.4L1891.1 1510.5L1891.5 1501.0L1891.6 1498.2L1892.0 1487.5L1892.1 1485.3L1892.5 1481.0L1892.6 1481.3L1893.0 1487.6L1893.1 1490.1L1893.5 1501.1L1893.6 1503.8L1894.0 1512.7L1894.1 1514.3L1894.5 1518.8L1894.6 1519.5L1895.0 1521.1L1895.1 1521.3L1895.5 1521.8L1895.6 1521.8L1896.0 1522.0L1896.1 1522.0L1896.5 1522.1L1896.6 1522.1L1897.0 1522.2L1897.1 1522.2L1897.5 1522.2L1897.6 1522.2L1898.0 1522.3L1898.1 1522.3L1898.5 1522.3L1898.6 1522.3L1899.0 1522.3L1899.1 1522.3L1899.5 1522.3L1899.6 1522.3L1900.0 1522.4L1900.1 1522.4L1900.5 1522.4L1900.6 1522.4L1901.0 1522.4L1901.5 1522.4L1902.0 1522.4L1902.5 1522.4L1903.0 1522.4L1903.5 1522.4L1904.0 1522.4L1904.5 1522.4L1905.0 1522.4L1905.5 1522.4L1906.0 1522.4L1906.5 1522.4L1907.5 1522.5L1911.5 1522.5L1915.5 1522.5L1915.6 1522.5L1916.1 1522.5L1916.6 1522.5L1917.1 1522.5L1917.6 1522.5L1918.1 1522.5L1918.6 1522.5L1919.1 1522.5L1919.5 1522.5L1919.6 1522.5L1920.1 1522.5L1920.6 1522.5L1921.1 1522.5L1921.6 1522.5L1922.1 1522.5L1922.6 1522.5L1923.1 1522.4L1923.5 1522.4L1923.6 1522.4L1924.1 1522.4L1924.6 1522.4L1925.1 1522.4L1925.6 1522.4L1926.1 1522.4L1926.6 1522.3L1927.1 1522.1L1927.5 1521.7L1927.6 1521.5L1928.1 1519.8L1928.6 1516.6L1929.1 1512.8L1929.6 1511.0L1930.1 1512.8L1930.6 1516.6L1931.1 1519.8L1931.5 1521.3L1931.6 1521.5L1932.1 1522.1L1932.6 1522.3L1933.1 1522.4L1933.6 1522.4L1934.1 1522.4L1934.6 1522.4L1935.1 1522.4L1935.5 1522.4L1935.6 1522.4L1936.1 1522.5L1936.6 1522.5L1937.1 1522.5L1937.6 1522.5L1938.1 1522.5L1938.6 1522.5L1939.1 1522.5L1939.5 1522.5L1939.6 1522.5L1940.1 1522.5L1940.6 1522.5L1941.1 1522.5L1941.6 1522.5L1942.1 1522.5L1942.6 1522.5L1943.1 1522.5L1943.5 1522.5L1943.6 1522.5L1947.5 1522.5L1951.5 1522.5L1955.5 1522.5L1959.5 1522.5L1960.0 1522.5L1960.5 1522.5L1961.0 1522.5L1961.5 1522.5L1962.0 1522.5L1962.5 1522.5L1963.0 1522.5L1963.5 1522.5L1964.0 1522.5L1964.5 1522.5L1965.0 1522.5L1965.5 1522.5L1966.0 1522.5L1966.5 1522.5L1967.0 1522.5L1967.5 1522.5L1968.0 1522.4L1968.5 1522.4L1969.0 1522.4L1969.5 1522.4L1970.0 1522.4L1970.5 1522.4L1971.0 1522.4L1971.5 1522.2L1972.0 1521.8L1972.5 1520.7L1973.0 1518.6L1973.5 1516.2L1974.0 1515.0L1974.5 1516.2L1975.0 1518.6L1975.5 1520.7L1976.0 1521.8L1976.5 1522.2L1977.0 1522.3L1977.5 1522.4L1978.0 1522.4L1978.5 1522.4L1979.0 1522.4L1979.5 1522.4L1980.0 1522.4L1980.5 1522.4L1981.0 1522.4L1981.5 1522.4L1982.0 1522.4L1982.5 1522.4L1983.0 1522.4L1983.5 1522.4L1984.0 1522.4L1984.5 1522.4L1985.0 1522.4L1985.5 1522.4L1986.0 1522.4L1986.5 1522.4L1987.0 1522.4L1987.5 1522.4L1988.0 1522.4L1988.5 1522.3L1989.0 1522.3L1989.5 1522.3L1990.0 1522.3L1990.5 1522.3L1991.0 1522.2L1991.5 1522.2L1992.0 1522.2L1992.5 1522.1L1993.0 1522.1L1993.5 1522.0L1994.0 1521.9L1994.5 1521.7L1995.0 1521.5L1995.5 1521.1L1996.0 1519.6L1996.5 1514.6L1997.0 1501.2L1997.5 1476.0L1998.0 1446.3L1998.5 1432.0L1999.0 1446.2L1999.5 1475.8L2000.0 1500.9L2000.5 1514.2L2001.0 1518.9L2001.5 1519.6L2002.0 1517.4L2002.5 1510.5L2003.0 1497.2L2003.5 1481.5L2004.0 1474.0L2004.5 1481.6L2005.0 1497.4L2005.5 1510.8L2006.0 1517.9L2006.5 1520.6L2007.0 1521.3L2007.5 1521.5L2008.0 1521.5L2008.5 1521.4L2009.0 1521.2L2009.5 1520.2L2010.0 1516.6L2010.5 1507.0L2011.0 1489.0L2011.5 1467.7L2012.0 1457.5L2012.5 1467.8L2013.0 1489.0L2013.5 1507.1L2014.0 1516.7L2014.5 1520.2L2015.0 1521.2L2015.5 1521.5L2016.0 1521.5L2016.5 1521.1L2017.0 1519.4L2017.5 1514.8L2018.0 1506.2L2018.5 1495.9L2019.0 1491.0L2019.5 1496.0L2020.0 1506.3L2020.5 1515.0L2021.0 1519.7L2021.5 1521.4L2022.0 1521.9L2022.5 1522.1L2023.0 1522.2L2023.5 1522.2L2024.0 1522.3L2024.5 1522.3L2025.0 1522.3L2025.5 1522.3L2026.0 1522.4L2026.5 1522.4L2027.0 1522.4L2027.5 1522.4L2028.0 1522.4L2028.5 1522.4L2029.0 1522.4L2029.5 1522.4L2030.0 1522.4L2030.5 1522.4L2031.0 1522.4L2031.5 1522.4L2032.0 1522.4L2032.5 1522.4L2033.0 1522.4L2035.5 1522.5L2039.5 1522.5L2043.5 1522.5L2045.0 1522.5L2045.5 1522.5L2046.0 1522.5L2046.5 1522.5L2047.0 1522.5L2047.5 1522.5L2048.0 1522.5L2048.5 1522.5L2049.0 1522.5L2049.5 1522.5L2050.0 1522.5L2050.5 1522.5L2051.0 1522.5L2051.5 1522.5L2052.0 1522.5L2052.5 1522.5L2053.0 1522.5L2053.5 1522.4L2054.0 1522.4L2054.5 1522.4L2055.0 1522.4L2055.5 1522.4L2056.0 1522.4L2056.5 1522.2L2057.0 1521.7L2057.5 1520.4L2058.0 1517.9L2058.5 1514.9L2059.0 1513.5L2059.5 1514.9L2060.0 1517.9L2060.5 1520.4L2061.0 1521.7L2061.5 1522.2L2062.0 1522.4L2062.5 1522.4L2063.0 1522.4L2063.5 1522.4L2064.0 1522.4L2064.5 1522.5L2065.0 1522.5L2065.5 1522.5L2066.0 1522.5L2066.5 1522.5L2067.0 1522.5L2067.5 1522.5L2068.0 1522.5L2068.5 1522.5L2069.0 1522.5L2069.5 1522.5L2070.0 1522.5L2070.5 1522.5L2071.0 1522.5L2071.5 1522.5L2072.0 1522.5L2072.5 1522.5L2073.0 1522.5L2075.5 1522.5L2079.5 1522.5L2083.5 1522.5L2087.5 1522.5L2091.5 1522.5L2095.5 1522.5L2099.5 1522.5L2103.5 1522.5L2107.5 1522.5L2111.5 1522.5L2115.5 1522.5L2119.5 1522.5L2123.5 1522.5L2127.5 1522.5L2131.5 1522.5L2135.5 1522.5L2139.5 1522.5L2143.5 1522.5L2147.5 1522.5L2151.5 1522.5L2155.5 1522.5L2159.5 1522.5L2163.5 1522.5L2167.5 1522.5L2171.5 1522.5L2172.0 1522.5L2172.5 1522.5L2173.0 1522.5L2173.5 1522.5L2174.0 1522.5L2174.5 1522.5L2175.0 1522.5L2175.5 1522.5L2176.0 1522.5L2176.5 1522.5L2177.0 1522.5L2177.5 1522.5L2178.0 1522.5L2178.5 1522.5L2179.0 1522.5L2179.5 1522.5L2180.0 1522.5L2180.5 1522.5L2181.0 1522.5L2181.5 1522.5L2182.0 1522.4L2182.5 1522.4L2183.0 1522.3L2183.5 1522.0L2184.0 1521.1L2184.5 1519.4L2185.0 1517.4L2185.5 1516.5L2186.0 1517.4L2186.5 1519.4L2187.0 1521.1L2187.5 1522.0L2188.0 1522.3L2188.5 1522.4L2189.0 1522.4L2189.5 1522.5L2190.0 1522.5L2190.5 1522.5L2191.0 1522.5L2191.5 1522.5L2192.0 1522.5L2192.5 1522.5L2193.0 1522.5L2193.5 1522.5L2194.0 1522.5L2194.5 1522.5L2195.0 1522.5L2195.5 1522.5L2196.0 1522.5L2196.5 1522.5L2197.0 1522.5L2197.5 1522.5L2198.0 1522.5L2198.5 1522.5L2199.0 1522.5L2199.5 1522.5L2201.0 1522.5L2201.5 1522.5L2202.0 1522.5L2202.5 1522.5L2203.0 1522.5L2203.5 1522.5L2204.0 1522.5L2204.5 1522.5L2205.0 1522.5L2205.5 1522.5L2206.0 1522.5L2206.5 1522.5L2207.0 1522.5L2207.5 1522.5L2208.0 1522.5L2208.5 1522.5L2209.0 1522.4L2209.5 1522.4L2210.0 1522.4L2210.5 1522.4L2211.0 1522.4L2211.5 1522.4L2212.0 1522.3L2212.5 1522.1L2213.0 1521.4L2213.5 1519.4L2214.0 1515.8L2214.5 1511.6L2215.0 1509.5L2215.5 1511.5L2216.0 1515.8L2216.5 1519.4L2217.0 1521.3L2217.5 1521.9L2218.0 1521.8L2218.5 1521.1L2219.0 1519.6L2219.5 1517.8L2220.0 1517.0L2220.5 1517.9L2221.0 1519.7L2221.5 1521.2L2222.0 1522.0L2222.5 1522.3L2223.0 1522.4L2223.5 1522.4L2224.0 1522.4L2224.5 1522.4L2225.0 1522.5L2225.5 1522.5L2226.0 1522.5L2226.5 1522.5L2227.0 1522.5L2227.5 1522.5L2228.0 1522.5L2228.5 1522.5L2229.0 1522.5L2229.5 1522.5L2230.0 1522.5L2230.5 1522.5L2231.0 1522.5L2231.5 1522.5L2232.0 1522.5L2232.5 1522.5L2233.0 1522.5L2233.5 1522.5L2234.0 1522.5" fill="none" stroke="#4e4e4e" stroke-width="5" stroke-linejoin="round" stroke-linecap="round"/>
<path d="M103.5 739.8L104.3 737.4L105.1 736.8L105.9 736.5L106.7 734.7L107.5 734.6L108.3 733.4L109.1 731.4L109.9 733.4L110.7 733.8L111.5 732.8L111.6 733.3L112.0 734.5L112.3 734.1L112.4 733.4L113.1 733.7L113.9 737.0L114.7 738.8L115.5 739.5L116.3 740.0L117.1 744.2L117.9 744.0L118.7 744.2L119.5 746.9L120.3 744.8L121.1 742.7L121.9 742.9L122.7 742.6L123.5 746.1L124.3 745.7L125.1 745.6L125.9 746.8L126.7 744.8L127.5 745.4L128.3 743.4L129.1 743.9L129.9 745.1L130.7 748.8L131.5 749.5L132.3 747.2L133.1 747.4L133.9 746.9L134.7 746.8L135.5 744.8L136.3 742.8L137.1 743.2L137.9 747.2L138.7 750.0L139.5 747.7L140.3 746.8L141.1 749.3L141.9 748.2L142.7 747.5L143.5 747.7L144.3 747.3L145.1 746.5L145.9 746.0L146.7 748.1L147.5 749.0L148.3 750.0L149.1 747.9L149.9 746.0L150.7 748.9L151.5 751.6L152.3 749.4L153.1 747.7L153.9 747.3L154.7 747.9L155.5 748.7L156.3 749.3L157.1 752.0L157.9 751.0L158.7 751.5L159.5 753.8L160.3 753.8L161.1 751.8L161.9 752.1L162.7 752.6L163.5 750.9L164.3 749.5L165.1 752.5L165.9 753.9L166.7 752.8L167.5 751.1L168.3 751.5L169.1 751.6L169.9 752.7L170.7 755.4L171.5 756.1L172.3 755.0L173.1 754.5L173.9 754.3L174.7 753.3L175.5 752.6L176.3 752.0L177.1 753.8L177.9 756.7L178.7 755.3L179.5 752.8L180.3 751.9L181.1 751.9L181.9 753.5L182.7 753.2L183.5 751.6L184.3 753.0L185.1 753.3L185.9 755.1L186.7 755.0L187.5 755.6L188.3 753.3L189.1 752.8L189.9 754.1L190.7 755.3L191.5 754.1L192.3 752.0L193.1 753.1L193.9 753.3L194.7 752.5L195.5 753.1L196.3 755.5L197.1 753.3L197.9 752.4L198.7 754.1L199.5 754.0L200.3 753.8L201.1 754.9L201.9 754.8L202.7 754.8L203.5 755.3L204.3 754.2L205.1 752.7L205.9 752.6L206.7 752.8L207.5 753.2L208.3 751.3L209.1 750.6L209.9 752.3L210.7 750.9L211.5 750.4L212.3 753.0L213.1 753.1L213.9 753.9L214.7 752.7L215.5 751.3L216.3 751.2L217.1 752.4L217.9 752.8L218.7 752.4L219.5 752.3L220.3 751.5L221.1 752.3L221.9 751.2L222.7 753.1L223.5 755.4L224.3 756.7L225.1 756.2L225.9 753.0L226.7 755.0L227.5 756.8L228.3 755.8L229.1 753.7L229.9 755.5L230.7 756.7L231.5 753.5L232.3 755.2L233.1 756.2L233.9 754.6L234.7 754.9L235.5 753.3L236.3 752.9L237.1 753.6L237.9 755.0L238.7 755.6L239.5 756.1L240.3 754.3L241.1 755.1L241.9 756.7L242.7 755.5L243.5 752.9L244.3 752.7L245.1 750.1L245.9 748.0L246.6 746.8L246.7 747.3L247.0 745.4L247.4 743.2L247.5 744.0L248.3 748.7L249.1 751.9L249.9 755.3L250.7 755.7L251.5 755.5L252.3 757.1L253.1 754.8L253.9 754.3L254.7 757.8L255.5 755.4L256.3 757.4L257.1 758.8L257.9 757.0L258.7 755.4L259.5 757.3L260.3 755.2L261.1 754.7L261.9 756.8L262.7 758.8L263.5 759.0L264.3 759.0L265.1 757.6L265.9 757.0L266.7 756.2L267.5 757.5L268.3 758.8L269.1 758.4L269.9 758.7L270.7 757.6L271.5 757.5L272.3 758.4L273.1 758.8L273.9 759.7L274.7 760.3L275.5 761.5L276.3 759.4L277.1 758.1L277.9 757.5L278.7 759.0L279.5 759.8L280.3 758.4L281.1 759.1L281.9 760.2L282.7 759.2L283.5 759.0L284.3 760.5L285.1 760.2L285.9 760.6L286.7 761.9L287.5 761.5L288.3 759.3L289.1 758.7L289.9 759.6L290.7 758.6L291.5 757.4L292.3 760.6L293.1 760.7L293.9 760.2L294.7 759.0L295.5 760.8L296.3 759.5L297.1 758.7L297.9 757.7L298.7 758.9L299.5 759.4L300.3 759.8L301.1 760.6L301.9 760.8L302.7 761.3L303.5 759.4L304.3 758.5L305.1 759.9L305.9 761.7L306.7 762.7L307.5 761.2L308.3 758.3L309.1 760.7L309.9 762.7L310.7 760.9L311.5 759.8L312.3 760.4L313.1 760.2L313.9 761.2L314.7 761.5L315.5 762.8L316.3 761.6L317.1 760.1L317.9 761.6L318.7 762.1L319.5 760.1L320.3 758.8L321.1 757.7L321.9 760.7L322.7 759.4L323.5 756.7L324.3 757.2L325.1 760.1L325.9 761.9L326.7 761.5L327.5 761.1L328.3 759.1L329.1 759.1L329.9 762.0L330.7 762.3L331.5 762.0L332.3 762.6L333.1 760.3L333.9 760.7L334.7 763.5L335.5 764.5L336.3 763.1L337.1 763.5L337.9 761.5L338.7 761.6L339.5 760.6L340.3 759.3L341.1 761.6L341.9 763.0L342.7 761.8L343.5 762.2L344.3 763.1L345.1 759.9L345.9 758.7L346.7 759.6L347.5 760.4L348.3 763.4L349.1 762.6L349.9 760.5L350.7 762.0L351.5 765.5L352.3 762.1L353.1 760.8L353.9 762.4L354.7 763.3L355.5 762.3L356.3 760.4L357.1 760.4L357.9 762.5L358.7 761.7L359.5 760.5L360.3 763.6L361.1 763.9L361.9 762.3L362.7 762.0L363.5 762.3L364.3 760.9L365.1 760.4L365.9 761.7L366.7 760.8L367.5 761.8L368.3 760.7L369.1 761.8L369.9 763.3L370.7 764.7L371.5 761.4L372.3 759.9L373.1 760.7L373.9 760.6L374.7 761.7L375.5 763.6L376.3 765.1L377.1 765.4L377.9 764.0L378.7 767.4L379.5 767.0L380.3 762.6L381.1 759.6L381.9 761.8L382.7 762.0L383.5 759.8L384.3 761.9L385.1 762.4L385.9 762.1L386.7 764.1L387.5 764.6L388.3 763.0L389.1 762.9L389.9 761.9L390.7 761.7L391.5 763.1L392.3 763.6L393.1 761.5L393.9 759.9L394.7 762.1L395.5 761.2L396.3 763.4L397.1 765.7L397.9 763.4L398.7 760.7L399.5 761.0L400.3 764.1L401.1 764.0L401.9 764.4L402.7 764.7L403.5 763.4L404.3 762.3L405.1 760.2L405.9 757.6L406.7 759.5L407.5 762.3L408.3 763.1L409.1 763.7L409.9 763.3L410.7 763.8L411.5 764.0L412.3 762.2L413.1 761.7L413.9 761.3L414.7 763.9L415.5 764.0L416.3 764.7L417.1 766.3L417.9 765.6L418.7 764.1L419.5 763.7L420.3 761.8L421.1 763.3L421.9 763.0L422.7 761.7L423.5 764.2L424.3 763.3L425.1 763.8L425.9 763.6L426.7 765.2L427.5 765.3L428.3 762.1L429.1 760.7L429.9 762.9L430.7 764.4L431.5 763.0L432.3 762.6L433.1 762.5L433.9 759.4L434.7 760.5L435.5 761.3L436.3 762.9L437.1 762.0L437.9 761.3L438.7 761.7L439.5 761.2L440.3 762.4L441.1 762.3L441.9 762.3L442.7 762.7L443.5 764.4L444.3 764.0L445.1 764.4L445.9 764.1L446.7 762.9L447.5 764.1L448.3 764.5L449.1 764.0L449.9 762.9L450.7 763.1L451.5 765.5L452.3 766.7L453.1 763.7L453.9 763.8L454.7 763.7L455.5 764.8L456.3 765.1L457.1 764.0L457.9 759.8L458.7 760.9L459.5 761.9L460.3 762.7L461.1 762.2L461.9 762.7L462.7 765.2L463.5 765.4L464.3 760.4L465.1 762.0L465.9 764.0L466.7 763.7L467.5 762.6L468.3 761.1L469.1 762.1L469.9 764.8L470.7 765.7L471.5 764.0L472.3 762.6L473.1 763.4L473.9 763.7L474.7 764.5L475.5 763.9L476.3 763.0L477.1 763.2L477.9 762.6L478.7 765.0L479.5 765.3L480.3 762.9L481.1 763.4L481.9 763.1L482.7 765.3L483.5 765.5L484.3 764.4L485.1 764.9L485.9 763.4L486.7 762.4L487.5 762.7L488.3 763.2L489.1 763.4L489.9 763.6L490.7 763.4L491.5 765.2L492.3 765.5L493.1 763.0L493.9 762.0L494.7 764.8L495.5 765.8L496.3 763.6L497.1 762.1L497.9 764.4L498.7 765.4L499.5 762.2L500.3 763.6L501.1 763.3L501.9 762.8L502.7 763.7L503.5 762.5L504.3 764.4L505.1 766.1L505.9 764.5L506.7 762.0L507.5 760.4L508.3 760.5L509.1 761.5L509.9 765.3L510.7 764.0L511.5 761.8L512.3 761.2L513.1 761.8L513.9 762.5L514.7 762.9L515.5 765.5L516.3 763.5L517.1 762.8L517.9 764.9L518.7 767.0L519.5 766.5L520.3 764.2L521.1 764.4L521.9 764.7L522.7 765.1L523.5 764.3L524.3 762.3L525.1 762.0L525.9 763.3L526.7 763.2L527.5 765.6L528.3 764.4L529.1 762.6L529.9 763.0L530.7 763.3L531.5 764.2L532.3 764.8L533.1 761.7L533.9 761.0L534.7 763.7L535.5 764.2L536.3 764.6L537.1 764.8L537.9 764.5L538.7 764.8L539.5 763.3L540.3 763.4L541.1 762.3L541.9 762.0L542.7 763.5L543.5 761.0L544.3 754.5L545.1 751.6L545.5 753.3L545.9 754.7L546.7 756.7L547.5 759.7L548.3 762.1L549.1 766.9L549.9 766.4L550.7 766.0L551.5 766.1L552.3 766.3L553.1 765.5L553.9 764.5L554.7 765.3L555.5 765.5L556.3 766.0L557.1 763.8L557.9 763.7L558.7 765.8L559.5 766.7L560.3 765.0L561.1 763.5L561.9 763.8L562.7 764.7L563.5 767.5L564.3 767.4L565.1 767.0L565.9 765.4L566.7 764.5L567.5 766.8L568.3 767.8L569.1 766.2L569.9 765.4L570.7 766.0L571.5 765.0L572.3 765.2L573.1 763.5L573.9 763.2L574.7 765.2L575.5 766.4L576.3 767.5L577.1 765.2L577.9 764.1L578.7 762.2L579.5 760.6L580.3 761.5L581.1 764.0L581.9 763.8L582.7 766.5L583.5 767.2L584.3 765.8L585.1 767.1L585.9 766.5L586.7 766.4L587.5 765.5L588.3 765.6L589.1 764.2L589.9 765.1L590.7 764.4L591.5 764.7L592.3 765.8L593.1 765.4L593.9 765.2L594.7 766.3L595.5 765.7L596.3 763.6L597.1 765.4L597.9 765.8L598.7 764.3L599.5 764.5L600.3 763.9L601.1 766.3L601.9 765.3L602.7 765.3L603.5 766.6L604.3 765.7L605.1 765.3L605.9 763.6L606.7 763.1L607.5 762.7L608.3 764.6L609.1 766.6L609.9 766.4L610.7 766.0L611.5 763.7L612.3 763.2L613.1 764.4L613.9 766.0L614.7 766.0L615.5 765.7L616.3 766.1L617.1 765.3L617.9 765.8L618.7 766.9L619.5 765.2L620.3 766.1L621.1 767.8L621.9 766.6L622.7 766.1L623.5 765.8L624.3 766.8L625.1 762.6L625.9 762.2L626.7 764.2L627.5 767.5L628.3 766.6L629.1 764.7L629.9 763.7L630.7 765.5L631.5 765.6L632.3 763.9L633.1 762.6L633.9 763.4L634.7 765.5L635.5 766.2L636.3 765.8L637.1 764.6L637.9 763.1L638.7 764.4L639.5 764.3L640.3 765.5L641.1 766.1L641.9 764.5L642.7 764.4L643.5 766.9L644.3 766.5L645.1 763.6L645.9 761.2L646.7 764.6L647.5 767.3L648.3 767.5L649.1 765.1L649.9 764.4L650.7 765.4L651.5 766.4L652.3 764.6L653.1 764.8L653.9 764.7L654.7 765.2L655.5 764.1L656.3 765.6L657.1 765.4L657.9 765.7L658.7 767.3L659.5 767.2L660.3 764.7L661.1 767.0L661.9 767.3L662.7 766.7L663.5 768.1L664.3 767.7L665.1 767.9L665.9 765.6L666.7 765.3L667.5 768.6L668.3 770.3L669.1 768.6L669.9 767.6L670.7 765.4L671.5 764.1L672.3 766.1L673.1 767.5L673.9 764.2L674.7 763.9L675.5 763.5L676.3 766.1L677.1 767.1L677.9 764.9L678.7 765.9L679.5 768.1L680.3 766.4L681.1 764.0L681.9 763.1L682.7 763.4L683.5 766.3L684.3 766.4L685.1 768.1L685.9 768.0L686.7 765.8L687.5 765.9L688.3 767.6L689.1 767.4L689.9 766.3L690.7 764.9L691.5 766.8L692.3 764.8L693.1 762.7L693.9 765.0L694.7 768.1L695.5 769.8L696.3 766.6L697.1 765.7L697.9 769.3L698.7 767.9L699.5 766.0L700.3 764.7L701.1 765.6L701.9 768.3L702.7 766.9L703.5 765.7L704.3 766.6L705.1 768.5L705.9 767.0L706.7 767.5L707.5 767.6L708.3 766.8L709.1 765.9L709.9 768.1L710.7 769.4L711.5 767.0L712.3 764.8L713.1 764.5L713.9 766.3L714.7 766.4L715.5 766.4L716.3 766.0L717.1 765.0L717.9 767.2L718.7 767.4L719.5 766.8L720.3 767.4L721.1 768.1L721.9 766.8L722.7 766.0L723.5 767.7L724.3 766.2L725.1 764.6L725.9 764.0L726.7 765.4L727.5 764.8L728.3 765.6L729.1 767.0L729.9 767.3L730.7 768.2L731.5 767.3L732.3 765.9L733.1 765.6L733.9 765.9L734.7 767.2L735.5 766.6L736.3 766.3L737.1 767.5L737.9 766.7L738.7 765.1L739.5 764.2L740.3 766.4L741.1 766.9L741.9 766.3L742.7 765.3L743.5 764.7L744.3 765.6L745.1 766.3L745.9 765.9L746.7 765.5L747.5 765.4L748.3 766.2L749.1 765.8L749.9 764.9L750.7 766.4L751.5 766.7L752.3 765.6L753.1 763.4L753.9 761.1L754.7 759.0L755.5 757.8L756.3 754.0L757.1 753.8L757.5 754.8L757.9 756.0L758.7 756.3L759.5 756.3L760.3 757.4L761.1 760.1L761.9 762.7L762.7 763.8L763.5 763.8L764.3 763.5L765.1 764.7L765.9 765.7L766.7 763.9L767.5 765.2L768.3 767.4L769.1 766.1L769.9 764.6L770.7 764.9L771.5 763.6L772.3 764.4L773.1 766.7L773.9 765.8L774.7 761.5L775.5 762.8L776.3 762.9L777.1 758.3L777.9 755.1L778.7 750.6L779.5 741.9L780.3 732.6L781.1 721.7L781.9 711.9L782.6 706.8L782.7 706.6L783.0 706.3L783.4 707.5L783.5 707.7L784.3 714.4L785.1 724.8L785.9 735.4L786.7 744.4L787.5 749.1L788.3 752.8L789.1 755.9L789.9 760.6L790.7 761.9L791.5 761.6L792.3 761.8L793.1 762.2L793.9 762.4L794.7 763.3L795.5 764.4L796.3 766.6L797.1 765.6L797.9 763.8L798.7 764.5L799.5 766.9L800.3 766.7L801.1 766.3L801.9 767.3L802.7 767.5L803.5 764.2L804.3 763.1L805.1 763.0L805.9 765.3L806.7 765.0L807.5 764.2L808.3 764.6L809.1 766.3L809.9 765.6L810.7 765.5L811.5 766.8L812.3 764.3L813.1 764.7L813.9 768.7L814.7 766.2L815.5 764.5L816.3 764.4L817.1 765.6L817.9 767.2L818.7 767.5L819.5 766.7L820.3 764.9L821.1 763.6L821.9 766.1L822.7 768.5L823.5 767.9L824.3 766.3L825.1 766.5L825.9 765.4L826.7 764.8L827.5 763.7L828.3 764.6L829.1 765.5L829.9 765.7L830.7 767.3L831.5 769.1L832.3 768.0L833.1 765.1L833.9 763.7L834.7 763.4L835.5 763.3L836.3 764.6L837.1 765.4L837.9 765.0L838.7 764.5L839.5 763.8L840.3 762.3L841.1 761.4L841.9 762.4L842.7 759.7L843.5 754.5L844.3 751.1L845.1 748.9L845.9 747.8L846.4 748.3L846.7 748.2L846.8 748.2L847.2 748.5L847.5 748.8L848.3 750.4L849.1 752.6L849.9 754.1L850.7 755.1L851.5 759.3L852.3 763.2L853.1 762.1L853.9 762.5L854.7 764.9L855.5 764.5L856.3 764.4L857.1 766.8L857.9 766.6L858.7 765.8L859.5 764.6L860.3 765.4L861.1 766.0L861.9 766.7L862.7 767.4L863.5 767.1L864.3 766.0L865.1 765.4L865.9 763.9L866.7 765.5L867.5 765.8L868.3 764.1L869.1 763.3L869.9 763.5L870.7 762.9L871.5 764.4L872.3 764.2L873.1 762.7L873.9 763.6L874.7 764.7L875.5 764.1L876.3 761.8L877.1 758.0L877.9 754.7L878.7 752.7L879.0 753.8L879.4 755.3L879.5 754.9L879.8 754.7L880.3 754.0L881.1 752.3L881.9 753.5L882.7 754.1L883.5 754.0L884.3 750.3L885.1 743.0L885.9 737.0L886.7 731.8L887.3 728.7L887.5 728.1L887.7 728.2L888.1 729.3L888.3 729.6L889.1 735.0L889.9 741.2L890.7 748.1L891.5 753.7L892.3 755.5L893.1 757.6L893.9 760.3L894.7 760.2L895.5 760.9L896.3 762.5L897.1 762.8L897.9 761.6L898.7 762.7L899.5 764.9L900.3 765.0L901.1 762.2L901.9 765.0L902.7 765.0L903.5 761.8L904.3 761.1L905.1 763.0L905.9 762.8L906.7 763.4L907.5 763.9L908.3 762.5L909.1 762.4L909.9 762.8L910.7 763.2L911.5 763.7L912.3 762.2L913.1 758.6L913.9 756.8L914.7 757.1L915.5 753.9L916.3 750.5L917.1 748.0L917.6 748.3L917.9 747.3L918.0 746.8L918.4 746.3L918.7 747.3L919.5 748.7L920.3 749.0L921.1 751.1L921.9 753.5L922.7 753.9L923.5 754.8L924.3 756.0L925.1 757.0L925.9 759.2L926.7 759.0L927.5 760.9L928.3 761.1L929.1 758.8L929.9 759.3L930.7 758.8L931.5 758.0L932.3 758.7L933.1 759.5L933.9 760.9L934.7 760.7L935.5 758.0L936.3 758.0L937.1 759.6L937.9 758.8L938.7 755.5L939.5 757.9L940.3 758.0L941.1 758.3L941.9 755.8L942.7 754.3L943.5 755.4L944.3 756.3L945.1 753.8L945.9 750.9L946.7 752.4L947.5 750.5L948.3 749.7L949.1 748.9L949.9 747.6L950.7 747.6L951.5 747.7L952.3 747.9L953.1 747.9L953.9 746.5L954.7 744.7L955.5 745.6L956.3 746.7L957.1 746.0L957.9 744.2L958.7 743.4L959.5 742.7L960.3 741.9L961.1 739.8L961.9 735.6L962.7 732.8L963.5 730.9L964.3 726.4L965.1 718.4L965.9 706.9L966.7 692.1L967.5 669.6L968.3 638.7L969.1 596.8L969.9 544.7L970.7 486.6L971.5 431.3L972.3 393.5L972.4 391.0L972.8 386.2L973.1 388.7L973.2 390.8L973.9 418.8L974.7 471.0L975.5 529.6L976.3 583.4L977.1 627.6L977.9 661.5L978.7 685.5L979.5 701.5L980.3 712.2L981.1 719.1L981.9 723.7L982.7 727.6L983.5 729.5L984.3 731.7L985.1 734.0L985.9 735.5L986.7 737.2L987.5 739.0L988.3 737.4L989.1 737.0L989.9 736.4L990.7 737.8L991.5 738.5L992.3 736.6L993.1 732.1L993.9 728.1L994.7 723.1L995.5 715.6L996.3 709.5L996.6 707.7L997.0 707.6L997.1 707.8L997.4 707.9L997.9 709.9L998.7 716.3L999.5 723.4L1000.3 729.0L1001.1 732.4L1001.9 734.5L1002.7 736.6L1003.5 737.4L1004.3 734.3L1005.1 733.6L1005.9 733.7L1006.7 733.9L1007.5 733.4L1008.3 734.8L1009.1 734.3L1009.9 732.6L1010.7 731.3L1011.5 730.8L1012.3 729.6L1013.1 727.7L1013.9 725.0L1014.7 722.7L1015.5 718.9L1016.3 715.0L1017.1 707.7L1017.9 699.9L1018.7 687.2L1019.5 667.7L1020.3 638.1L1021.1 596.2L1021.9 538.7L1022.7 466.3L1023.5 380.8L1024.3 290.3L1025.1 209.0L1025.9 156.6L1026.0 152.7L1026.4 145.7L1026.7 149.7L1026.8 152.4L1027.5 191.6L1028.3 268.0L1029.1 357.4L1029.9 445.0L1030.7 521.3L1031.5 582.3L1032.3 628.1L1033.1 660.1L1033.9 682.0L1034.7 696.3L1035.5 705.9L1036.3 713.3L1037.1 716.9L1037.9 719.1L1038.7 721.9L1039.5 723.8L1040.3 726.0L1041.1 727.6L1041.9 728.6L1042.7 729.2L1043.5 729.4L1044.3 730.7L1045.1 731.1L1045.9 729.6L1046.7 729.2L1047.5 728.9L1048.3 728.4L1049.1 725.6L1049.9 721.1L1050.7 716.7L1051.5 710.9L1052.3 704.8L1053.1 697.7L1053.9 689.1L1054.7 679.5L1055.5 668.9L1056.3 658.2L1057.1 648.4L1057.9 639.2L1058.7 631.1L1059.1 627.4L1059.5 624.0L1059.9 620.5L1060.3 616.9L1061.1 608.1L1061.9 596.1L1062.7 578.6L1063.5 555.4L1064.3 527.5L1065.1 498.6L1065.9 478.0L1066.2 475.2L1066.6 475.9L1066.7 476.9L1067.0 482.2L1067.5 498.0L1068.3 535.3L1069.1 578.2L1069.9 618.8L1070.7 652.4L1071.5 678.4L1072.3 697.7L1073.1 711.9L1073.9 720.9L1074.7 726.0L1075.5 730.3L1076.3 734.1L1077.1 736.3L1077.9 736.5L1078.7 739.5L1079.5 740.3L1080.3 740.6L1081.1 742.2L1081.9 745.0L1082.7 746.8L1083.5 746.1L1084.3 746.0L1085.1 745.6L1085.9 747.3L1086.7 747.8L1087.5 745.8L1088.3 747.0L1089.1 748.4L1089.9 746.5L1090.7 748.0L1091.5 749.2L1092.3 747.5L1093.1 748.7L1093.9 750.6L1094.7 751.2L1095.5 750.0L1096.3 752.1L1097.1 752.8L1097.9 753.8L1098.7 754.1L1099.5 753.2L1100.3 752.2L1101.1 749.7L1101.9 749.5L1102.7 750.6L1103.5 752.4L1104.3 753.3L1105.1 751.0L1105.9 751.3L1106.7 750.5L1107.5 751.1L1108.3 754.4L1109.1 754.5L1109.9 755.6L1110.7 754.6L1111.5 750.9L1112.3 750.2L1113.1 753.3L1113.9 750.8L1114.7 748.7L1115.5 749.3L1116.3 747.5L1117.1 744.7L1117.9 742.9L1118.7 741.3L1119.5 739.5L1120.3 737.8L1120.6 736.4L1121.0 735.8L1121.1 736.4L1121.4 736.3L1121.9 736.0L1122.7 734.4L1123.5 732.7L1124.3 730.2L1125.1 726.5L1125.9 717.7L1126.7 705.6L1127.5 688.0L1128.3 665.6L1129.1 639.2L1129.9 612.3L1130.7 592.1L1131.0 587.8L1131.4 586.1L1131.5 586.1L1131.8 587.9L1132.3 596.8L1133.1 620.4L1133.9 648.3L1134.7 674.5L1135.5 696.5L1136.3 714.0L1137.1 727.5L1137.9 735.1L1138.7 740.4L1139.5 743.6L1140.3 746.7L1141.1 751.1L1141.9 752.8L1142.7 753.6L1143.5 754.9L1144.3 756.5L1145.1 757.4L1145.9 756.2L1146.7 755.3L1147.5 755.6L1148.3 757.9L1149.1 756.6L1149.9 755.4L1150.7 757.1L1151.5 758.7L1152.3 760.3L1153.1 760.4L1153.9 758.3L1154.7 757.8L1155.5 758.1L1156.3 757.7L1157.1 759.1L1157.9 760.3L1158.7 759.2L1159.5 757.0L1160.3 757.9L1161.1 760.5L1161.9 759.3L1162.7 760.6L1163.5 760.9L1164.3 759.2L1165.1 758.3L1165.9 759.2L1166.7 758.5L1167.5 759.1L1168.3 759.4L1169.1 758.6L1169.9 758.9L1170.7 758.5L1171.5 757.6L1172.3 758.4L1173.1 757.7L1173.9 756.5L1174.7 758.0L1175.5 758.6L1176.3 757.5L1177.1 756.6L1177.9 759.8L1178.7 760.9L1179.5 760.7L1180.3 759.4L1181.1 757.6L1181.9 758.3L1182.7 758.8L1183.5 761.4L1184.3 759.6L1185.1 758.9L1185.9 756.4L1186.7 756.2L1187.5 757.8L1188.3 759.7L1189.1 759.9L1189.9 758.4L1190.7 756.5L1191.5 758.7L1192.3 758.3L1193.1 761.0L1193.9 762.0L1194.7 760.6L1195.5 759.2L1196.3 757.9L1197.1 761.0L1197.9 759.7L1198.7 758.8L1199.5 756.8L1200.3 756.4L1201.1 755.5L1201.9 756.4L1202.7 757.2L1203.5 758.0L1204.3 759.2L1205.1 758.1L1205.9 757.0L1206.7 757.3L1207.5 758.3L1208.3 755.9L1209.1 754.9L1209.9 750.8L1210.7 749.4L1211.5 748.3L1212.3 745.9L1212.6 747.6L1213.0 745.2L1213.1 740.6L1213.4 739.0L1213.9 739.1L1214.7 737.2L1215.5 730.7L1216.3 720.9L1217.1 709.8L1217.9 699.6L1218.6 693.7L1218.7 693.5L1219.0 693.5L1219.4 694.6L1219.5 694.9L1220.3 702.9L1221.1 714.4L1221.9 725.3L1222.7 734.3L1223.5 742.3L1224.3 747.6L1225.1 750.2L1225.9 751.5L1226.7 753.0L1227.5 754.4L1228.3 755.3L1229.1 757.9L1229.9 758.7L1230.7 759.5L1231.5 761.0L1232.3 761.0L1233.1 760.2L1233.9 758.6L1234.7 758.7L1235.5 760.6L1236.3 757.8L1237.1 756.4L1237.9 756.7L1238.7 758.3L1239.5 759.4L1240.3 759.9L1241.1 757.7L1241.9 756.0L1242.7 758.6L1243.5 760.1L1244.3 759.0L1245.1 758.7L1245.9 760.0L1246.7 760.9L1247.5 758.6L1248.3 756.4L1249.1 757.2L1249.9 757.4L1250.7 756.5L1251.5 758.7L1252.3 758.3L1253.1 759.3L1253.9 759.2L1254.7 759.3L1255.5 760.7L1256.3 758.5L1257.1 757.8L1257.9 759.4L1258.7 760.2L1259.5 758.8L1260.3 757.8L1261.1 759.7L1261.9 761.0L1262.7 762.0L1263.5 759.6L1264.3 758.8L1265.1 757.5L1265.9 756.5L1266.7 758.6L1267.5 759.6L1268.3 757.5L1269.1 756.8L1269.9 757.4L1270.7 759.8L1271.5 758.7L1272.3 758.8L1273.1 757.7L1273.9 758.0L1274.7 756.6L1275.5 754.9L1276.3 757.7L1277.1 758.1L1277.9 755.5L1278.7 756.7L1279.5 756.9L1280.3 756.1L1281.1 756.1L1281.9 755.0L1282.7 757.6L1283.5 758.7L1284.3 756.1L1285.1 757.1L1285.9 758.8L1286.7 757.1L1287.5 755.1L1288.3 754.2L1289.1 754.6L1289.9 754.0L1290.7 752.6L1291.5 749.2L1292.3 747.7L1293.1 742.9L1293.9 736.4L1294.7 726.9L1295.5 715.6L1296.3 702.6L1297.1 688.2L1297.9 675.2L1298.7 666.8L1298.8 666.3L1299.2 665.1L1299.5 665.5L1299.6 666.0L1300.3 673.0L1301.1 685.7L1301.9 700.0L1302.7 713.8L1303.5 725.5L1304.3 735.7L1305.1 742.8L1305.9 745.2L1306.7 750.5L1307.5 752.5L1308.3 752.8L1309.1 756.5L1309.9 758.2L1310.7 758.7L1311.5 758.8L1312.3 762.3L1313.1 761.5L1313.9 761.2L1314.7 763.5L1315.5 763.6L1316.3 763.9L1317.1 763.2L1317.9 760.9L1318.7 763.9L1319.5 763.3L1320.3 763.8L1321.1 764.4L1321.9 763.1L1322.7 764.1L1323.5 764.9L1324.3 764.3L1325.1 763.8L1325.9 761.4L1326.7 761.0L1327.5 762.1L1328.3 765.9L1329.1 769.8L1329.9 766.3L1330.7 764.1L1331.5 764.6L1332.3 765.9L1333.1 765.1L1333.9 763.2L1334.7 764.5L1335.5 763.9L1336.3 762.3L1337.1 758.0L1337.9 757.2L1338.6 758.4L1338.7 757.2L1339.0 758.9L1339.4 759.8L1339.5 759.7L1340.3 760.9L1341.1 762.3L1341.9 763.3L1342.7 763.3L1343.5 765.4L1344.3 769.3L1345.1 768.2L1345.9 766.7L1346.7 765.7L1347.5 764.6L1348.3 765.2L1349.1 765.6L1349.9 766.3L1350.7 763.6L1351.5 761.5L1352.3 764.1L1353.1 767.6L1353.9 770.1L1354.7 768.0L1355.5 764.8L1356.3 764.7L1357.1 764.4L1357.9 764.8L1358.7 763.9L1359.5 763.5L1360.3 766.0L1361.1 766.5L1361.9 766.1L1362.7 767.4L1363.5 769.1L1364.3 767.0L1365.1 765.9L1365.9 766.2L1366.7 764.4L1367.5 765.9L1368.3 764.8L1369.1 764.4L1369.9 766.4L1370.7 767.9L1371.5 766.0L1372.3 767.0L1373.1 766.1L1373.9 764.4L1374.7 766.0L1375.5 764.3L1376.3 762.8L1377.1 763.5L1377.9 764.5L1378.7 765.7L1379.5 765.5L1380.3 767.4L1381.1 766.2L1381.9 764.1L1382.7 764.0L1383.5 764.3L1384.3 761.5L1385.1 760.7L1385.9 763.1L1386.7 765.6L1387.5 765.5L1388.3 764.8L1389.1 763.2L1389.9 760.9L1390.7 761.4L1391.5 760.7L1392.3 762.0L1393.1 760.3L1393.9 758.0L1394.7 756.2L1395.5 754.0L1396.2 752.7L1396.3 752.4L1396.6 751.0L1397.0 750.6L1397.1 752.7L1397.9 756.0L1398.7 757.7L1399.5 758.6L1400.3 760.7L1401.1 761.5L1401.9 762.7L1402.7 762.6L1403.5 764.5L1404.3 767.0L1405.1 766.6L1405.9 766.0L1406.7 763.1L1407.5 762.3L1408.3 763.2L1409.1 763.5L1409.9 762.5L1410.7 761.8L1411.5 759.3L1412.3 758.5L1413.1 755.1L1413.9 750.6L1414.7 749.5L1414.8 749.6L1415.2 749.8L1415.5 749.0L1415.6 749.6L1416.3 750.4L1417.1 749.5L1417.9 752.6L1418.7 757.7L1419.5 760.7L1420.3 763.2L1421.1 762.9L1421.9 761.7L1422.7 763.1L1423.5 762.8L1424.3 763.1L1425.1 763.4L1425.9 763.8L1426.7 761.9L1427.5 761.0L1428.3 761.7L1429.1 766.0L1429.9 763.7L1430.7 762.3L1431.5 762.2L1432.3 763.0L1433.1 764.0L1433.9 765.5L1434.7 765.5L1435.5 765.1L1436.3 764.1L1437.1 765.0L1437.9 766.6L1438.7 765.6L1439.5 764.4L1440.3 762.4L1441.1 764.9L1441.9 766.2L1442.7 765.7L1443.5 761.7L1444.3 763.7L1445.1 764.9L1445.9 764.8L1446.7 764.3L1447.5 765.4L1448.3 766.2L1449.1 765.4L1449.9 764.6L1450.7 764.5L1451.5 764.5L1452.3 764.7L1453.1 763.2L1453.9 762.7L1454.7 765.4L1455.5 763.3L1456.3 763.6L1457.1 763.2L1457.9 763.8L1458.7 763.7L1459.5 764.3L1460.3 763.4L1461.1 763.2L1461.9 765.7L1462.7 767.5L1463.5 766.5L1464.3 765.1L1465.1 763.8L1465.9 764.8L1466.7 765.5L1467.5 764.9L1468.3 766.1L1469.1 765.7L1469.9 765.3L1470.7 764.2L1471.5 764.1L1472.3 765.0L1473.1 765.3L1473.9 764.3L1474.7 762.0L1475.5 761.4L1476.3 760.6L1477.1 758.4L1477.9 759.4L1478.7 757.7L1479.5 755.0L1480.3 753.3L1480.6 754.1L1481.0 754.1L1481.1 755.6L1481.4 754.2L1481.9 752.8L1482.7 755.6L1483.5 756.8L1484.3 758.2L1485.1 760.2L1485.9 762.0L1486.7 763.8L1487.5 765.3L1488.3 765.1L1489.1 763.3L1489.9 762.4L1490.7 763.6L1491.5 765.8L1492.3 767.7L1493.1 767.8L1493.9 764.5L1494.7 765.0L1495.5 765.2L1496.3 765.1L1497.1 765.6L1497.9 765.3L1498.7 765.0L1499.5 765.0L1500.3 766.6L1501.1 768.4L1501.9 768.5L1502.7 765.4L1503.5 764.1L1504.3 764.7L1505.1 765.2L1505.9 766.7L1506.7 765.4L1507.5 765.1L1508.3 764.0L1509.1 765.0L1509.9 766.9L1510.7 768.0L1511.5 766.0L1512.3 765.3L1513.1 762.8L1513.9 763.0L1514.7 764.2L1515.5 765.3L1516.3 766.9L1517.1 766.5L1517.9 764.5L1518.7 765.7L1519.5 765.8L1520.3 768.5L1521.1 767.6L1521.9 766.5L1522.7 766.1L1523.5 766.1L1524.3 765.9L1525.1 765.7L1525.9 767.2L1526.7 767.4L1527.5 767.5L1528.3 766.9L1529.1 766.9L1529.9 767.3L1530.7 770.8L1531.5 766.8L1532.3 765.9L1533.1 768.1L1533.9 768.2L1534.7 765.1L1535.5 763.0L1536.3 763.1L1537.1 764.0L1537.9 764.7L1538.7 766.3L1539.5 768.3L1540.3 768.2L1541.1 766.3L1541.9 767.3L1542.7 768.6L1543.5 768.8L1544.3 766.5L1545.1 765.6L1545.9 767.7L1546.7 768.4L1547.5 766.8L1548.3 769.1L1549.1 768.8L1549.9 765.1L1550.7 762.5L1551.5 763.2L1552.3 764.3L1553.1 764.4L1553.9 763.4L1554.7 768.0L1555.5 768.1L1556.3 762.9L1557.1 760.4L1557.9 762.3L1558.7 764.0L1559.5 764.8L1560.3 763.3L1561.1 760.2L1561.9 757.4L1562.7 758.4L1563.5 757.4L1564.3 754.6L1564.6 754.4L1565.0 754.1L1565.1 753.2L1565.4 752.6L1565.9 753.9L1566.7 754.8L1567.5 757.6L1568.3 756.8L1569.1 756.5L1569.9 755.0L1570.6 754.9L1570.7 754.9L1571.0 755.1L1571.4 753.8L1571.5 752.9L1572.3 755.7L1573.1 757.7L1573.9 758.2L1574.7 759.6L1575.5 760.4L1576.3 762.7L1577.1 763.4L1577.9 765.2L1578.7 768.0L1579.5 766.1L1580.3 765.3L1581.1 765.2L1581.9 763.9L1582.7 763.3L1583.5 765.1L1584.3 763.9L1585.1 759.4L1585.9 761.1L1586.7 761.8L1587.5 762.0L1588.3 763.3L1589.1 762.0L1589.9 762.1L1590.7 760.5L1591.5 760.2L1592.3 760.8L1593.1 759.2L1593.9 758.4L1594.7 757.0L1595.5 757.1L1596.3 758.7L1597.1 757.8L1597.9 754.7L1598.7 754.6L1599.5 756.9L1600.3 752.9L1601.1 749.9L1601.9 748.1L1602.7 743.0L1603.5 736.8L1604.3 728.1L1605.1 714.5L1605.9 697.4L1606.7 678.8L1607.5 661.4L1608.1 652.8L1608.3 651.3L1608.5 650.5L1608.9 651.4L1609.1 652.8L1609.9 663.5L1610.7 678.1L1611.5 691.7L1612.3 703.0L1612.6 707.0L1613.0 712.3L1613.1 713.5L1613.4 717.6L1613.9 723.9L1614.7 731.7L1615.5 737.7L1616.3 742.7L1617.1 747.6L1617.9 751.3L1618.7 752.7L1619.5 751.1L1620.3 753.4L1621.1 755.4L1621.9 756.3L1622.7 753.6L1623.5 751.2L1624.3 748.8L1625.1 748.2L1625.6 747.8L1625.9 747.8L1626.0 747.6L1626.4 747.5L1626.7 749.3L1627.5 751.1L1628.3 751.8L1629.1 751.5L1629.9 752.4L1630.7 751.4L1631.5 747.2L1632.3 744.3L1633.1 738.3L1633.9 731.0L1634.4 727.0L1634.7 724.9L1634.8 725.2L1635.2 723.2L1635.5 721.0L1636.3 716.5L1637.1 709.0L1637.9 699.1L1638.6 692.5L1638.7 691.9L1639.0 691.4L1639.4 692.9L1639.5 693.8L1640.3 703.4L1641.1 714.4L1641.9 721.0L1642.7 722.0L1643.5 720.6L1643.9 720.6L1644.3 720.9L1644.7 723.1L1645.1 727.3L1645.9 736.6L1646.7 746.7L1647.5 754.0L1648.3 755.7L1649.1 756.7L1649.9 756.5L1650.7 758.5L1651.5 758.6L1652.3 757.9L1653.1 758.8L1653.9 762.2L1654.7 759.9L1655.5 760.0L1656.3 762.3L1657.1 763.7L1657.9 764.0L1658.7 763.5L1659.5 762.8L1660.3 764.6L1661.1 763.8L1661.9 762.8L1662.7 765.5L1663.5 764.8L1664.3 764.7L1665.1 762.1L1665.9 761.7L1666.7 762.7L1667.5 763.6L1668.3 764.8L1669.1 762.7L1669.9 763.5L1670.7 763.4L1671.5 764.9L1672.3 764.8L1673.1 764.9L1673.9 767.4L1674.7 765.9L1675.5 765.2L1676.3 762.7L1677.1 763.0L1677.9 763.3L1678.7 762.6L1679.5 760.7L1680.3 757.7L1681.1 754.4L1681.9 755.1L1682.7 755.0L1683.2 755.7L1683.5 757.8L1683.6 759.2L1684.0 758.0L1684.3 758.0L1685.1 758.8L1685.9 760.2L1686.7 761.2L1687.5 761.4L1688.3 762.4L1689.1 764.8L1689.9 767.3L1690.7 767.5L1691.5 767.2L1692.3 764.4L1693.1 765.5L1693.9 766.6L1694.7 766.0L1695.5 763.2L1696.3 761.6L1697.1 761.8L1697.9 765.5L1698.7 769.3L1699.5 766.9L1700.3 764.6L1701.1 765.9L1701.9 765.9L1702.7 766.0L1703.5 765.0L1704.3 763.9L1705.1 765.2L1705.9 767.2L1706.7 767.6L1707.5 767.7L1708.3 765.9L1709.1 767.3L1709.9 767.0L1710.7 767.3L1711.5 768.2L1712.3 766.9L1713.1 767.0L1713.9 767.8L1714.7 768.1L1715.5 768.6L1716.3 769.0L1717.1 767.7L1717.9 767.3L1718.7 769.8L1719.5 767.9L1720.3 766.7L1721.1 764.7L1721.9 762.7L1722.7 764.5L1723.5 766.6L1724.3 767.4L1725.1 767.3L1725.9 768.3L1726.7 768.9L1727.5 768.6L1728.3 767.2L1729.1 766.7L1729.9 766.0L1730.7 766.0L1731.5 767.8L1732.3 765.6L1733.1 766.2L1733.9 766.0L1734.7 764.2L1735.5 766.6L1736.3 766.7L1737.1 766.5L1737.9 765.2L1738.7 763.9L1739.5 765.5L1740.3 766.4L1741.1 767.2L1741.9 765.7L1742.7 763.5L1743.5 766.1L1744.3 766.8L1745.1 766.3L1745.9 765.1L1746.7 763.6L1747.5 764.2L1748.3 764.9L1749.1 767.4L1749.9 763.9L1750.7 761.3L1751.5 762.6L1752.3 764.4L1753.1 761.3L1753.9 759.3L1754.7 763.3L1755.5 762.9L1756.3 761.5L1757.1 761.9L1757.9 759.8L1758.7 759.5L1759.5 761.5L1760.3 760.7L1761.1 761.0L1761.9 760.9L1762.7 761.3L1763.5 759.4L1764.3 757.1L1765.1 759.1L1765.9 759.2L1766.7 760.0L1767.5 759.9L1768.3 760.3L1769.1 757.4L1769.9 754.7L1770.7 756.4L1771.5 757.7L1772.3 756.5L1773.1 756.5L1773.9 758.1L1774.7 756.9L1775.5 757.0L1776.3 755.1L1777.1 752.2L1777.9 751.8L1778.7 752.6L1779.5 752.3L1780.3 749.6L1781.1 746.5L1781.9 743.7L1782.7 739.4L1783.5 732.4L1784.3 724.3L1785.1 715.5L1785.9 706.9L1786.1 705.3L1786.5 704.1L1786.7 704.3L1786.9 704.3L1787.5 706.5L1788.3 710.9L1789.1 714.8L1789.9 718.4L1790.1 719.3L1790.5 720.8L1790.7 722.3L1790.9 724.3L1791.5 728.7L1792.3 736.2L1793.1 744.2L1793.9 749.4L1794.7 751.9L1795.5 754.1L1796.3 755.6L1797.1 754.9L1797.9 754.3L1798.7 757.0L1799.5 757.2L1800.3 755.2L1801.1 753.2L1801.9 752.9L1802.7 750.8L1803.5 750.8L1804.3 749.2L1805.1 750.7L1805.9 751.4L1806.7 748.8L1807.5 745.7L1808.3 739.0L1809.1 731.3L1809.9 722.9L1810.7 715.0L1811.5 709.4L1811.9 708.6L1812.3 709.0L1813.1 712.5L1813.9 717.5L1814.7 722.6L1815.5 725.5L1816.3 725.5L1817.1 725.5L1817.5 726.9L1817.9 728.4L1818.7 732.5L1819.5 741.5L1820.3 748.3L1821.1 752.2L1821.9 754.4L1822.7 757.2L1823.5 758.6L1824.3 757.9L1825.1 760.3L1825.9 761.6L1826.7 763.4L1827.5 763.0L1828.3 761.9L1829.1 762.4L1829.9 763.5L1830.7 763.5L1831.5 763.6L1832.3 762.0L1833.1 761.2L1833.9 761.8L1834.7 761.4L1835.5 762.7L1836.3 763.9L1837.1 762.0L1837.9 762.8L1838.7 764.9L1839.5 764.0L1840.3 763.3L1841.1 761.6L1841.9 761.3L1842.7 763.1L1843.5 765.3L1844.3 763.2L1845.1 760.3L1845.9 762.2L1846.7 763.4L1847.5 762.0L1848.3 759.4L1849.1 760.8L1849.9 762.9L1850.7 760.2L1851.5 759.9L1852.3 758.6L1853.1 757.6L1853.9 758.9L1854.7 760.9L1855.5 760.1L1856.3 756.6L1857.1 754.6L1857.9 751.5L1858.7 747.8L1859.5 746.3L1860.3 742.4L1861.1 735.6L1861.9 728.5L1862.7 724.8L1862.8 724.5L1863.2 723.1L1863.5 723.0L1863.6 723.1L1864.3 725.9L1865.1 730.7L1865.9 733.3L1866.7 736.1L1867.5 739.7L1868.1 740.6L1868.3 739.4L1868.5 740.3L1868.9 742.4L1869.1 743.8L1869.9 749.1L1870.7 753.7L1871.5 755.9L1872.3 757.8L1873.1 759.1L1873.9 762.3L1874.7 763.5L1875.5 761.7L1876.3 762.0L1877.1 765.5L1877.9 764.6L1878.7 761.4L1879.5 760.2L1880.3 762.7L1881.1 764.7L1881.9 763.1L1882.7 762.6L1883.5 763.0L1884.3 764.9L1885.1 765.2L1885.9 762.3L1886.7 762.5L1887.5 762.8L1888.3 762.0L1889.1 762.0L1889.9 764.2L1890.7 764.5L1891.5 765.3L1892.3 765.8L1893.1 764.0L1893.9 763.9L1894.7 763.1L1895.5 763.3L1896.3 763.8L1897.1 762.6L1897.9 761.9L1898.7 764.8L1899.5 763.7L1900.3 760.7L1901.1 759.5L1901.9 762.4L1902.7 764.6L1903.5 765.4L1904.3 765.0L1905.1 763.3L1905.9 763.0L1906.7 761.1L1907.5 762.8L1908.3 763.9L1909.1 762.2L1909.9 762.2L1910.7 762.7L1911.5 763.3L1912.3 763.9L1913.1 761.8L1913.9 762.4L1914.7 759.8L1915.5 758.7L1916.3 758.4L1917.1 758.2L1917.9 757.3L1918.7 757.0L1919.5 756.5L1920.3 757.2L1921.1 755.0L1921.5 753.7L1921.9 754.3L1922.7 755.1L1923.5 754.8L1924.3 754.5L1925.1 756.0L1925.9 758.7L1926.7 760.8L1927.5 761.1L1928.3 760.9L1929.1 761.5L1929.9 760.9L1930.7 762.2L1931.5 764.1L1932.3 764.4L1933.1 763.9L1933.9 761.8L1934.7 761.3L1935.5 760.7L1936.3 762.2L1937.1 760.8L1937.9 759.2L1938.7 760.1L1939.5 760.2L1940.3 757.3L1941.1 758.1L1941.9 761.3L1942.7 760.8L1943.5 759.3L1944.3 758.3L1945.1 761.5L1945.9 761.8L1946.7 760.0L1947.5 757.9L1948.3 759.4L1949.1 760.0L1949.9 758.0L1950.7 757.0L1951.5 756.9L1952.3 757.6L1953.1 756.6L1953.9 755.2L1954.7 753.2L1955.5 753.2L1956.3 756.6L1957.1 757.8L1957.9 756.9L1958.7 755.9L1959.5 753.0L1960.3 752.2L1961.1 751.6L1961.9 750.4L1962.7 749.2L1963.5 743.8L1964.3 739.9L1965.1 735.5L1965.9 729.7L1966.7 723.2L1967.5 715.4L1968.3 710.3L1968.9 707.6L1969.1 707.1L1969.3 707.2L1969.7 707.7L1969.9 707.8L1970.7 711.9L1971.5 718.1L1972.3 724.4L1973.1 729.4L1973.9 734.0L1974.7 738.5L1975.5 740.8L1976.3 743.5L1977.1 744.4L1977.9 743.5L1978.7 743.9L1979.5 743.5L1980.3 743.2L1981.1 743.7L1981.9 742.2L1982.7 740.2L1983.5 737.5L1984.3 737.2L1985.1 734.5L1985.9 733.4L1986.7 733.3L1987.5 731.0L1988.3 726.9L1988.5 725.7L1988.9 726.0L1989.1 725.8L1989.3 725.6L1989.9 724.9L1990.7 726.9L1991.5 727.7L1992.3 725.9L1993.1 725.9L1993.9 726.4L1994.7 726.5L1995.5 724.5L1996.3 724.5L1997.1 723.2L1997.9 721.3L1998.7 719.3L1999.5 714.8L2000.3 710.4L2001.1 705.1L2001.9 697.4L2002.6 688.4L2002.7 686.9L2003.0 682.8L2003.4 676.8L2003.5 675.2L2004.3 663.6L2005.1 655.1L2005.4 653.5L2005.8 652.0L2005.9 652.1L2006.2 653.0L2006.7 656.8L2007.5 666.9L2008.3 677.9L2009.1 686.5L2009.9 690.5L2010.7 689.1L2011.5 684.3L2012.1 681.5L2012.3 681.4L2012.5 682.1L2012.9 684.9L2013.1 687.4L2013.9 700.4L2014.7 713.1L2015.5 722.4L2016.3 727.3L2017.1 729.9L2017.9 729.4L2018.7 727.6L2019.5 722.2L2020.3 715.0L2021.1 708.3L2021.6 705.5L2021.9 705.0L2022.0 705.4L2022.4 706.8L2022.7 709.0L2023.5 717.4L2024.3 727.0L2025.1 733.7L2025.9 738.6L2026.7 743.1L2027.5 747.3L2028.3 746.7L2029.1 747.2L2029.9 749.5L2030.7 752.7L2031.5 753.9L2032.3 753.7L2033.1 755.7L2033.9 756.8L2034.7 758.2L2035.5 758.0L2036.3 756.5L2037.1 757.2L2037.9 757.8L2038.7 758.7L2039.5 758.9L2040.3 759.2L2041.1 760.1L2041.9 760.1L2042.7 760.6L2043.5 760.2L2044.3 760.3L2045.1 762.0L2045.9 762.9L2046.7 763.3L2047.5 762.4L2048.3 761.3L2049.1 761.7L2049.9 761.1L2050.7 758.9L2051.5 760.3L2052.3 763.7L2053.1 761.6L2053.9 758.4L2054.7 761.1L2055.5 762.0L2056.3 761.8L2057.1 765.4L2057.9 765.2L2058.7 763.6L2059.5 762.3L2060.3 762.7L2061.1 763.1L2061.9 762.0L2062.7 760.3L2063.5 760.4L2064.3 760.0L2065.1 758.5L2065.9 755.8L2066.7 754.5L2067.5 751.6L2068.3 747.5L2069.1 741.7L2069.9 734.9L2070.7 729.8L2071.5 724.4L2072.1 721.2L2072.3 721.0L2072.5 720.7L2072.9 721.2L2073.1 722.3L2073.9 726.1L2074.7 731.4L2075.5 734.8L2076.3 736.7L2077.1 738.0L2077.9 737.6L2078.6 740.3L2078.7 740.4L2079.0 740.7L2079.4 741.5L2079.5 741.1L2080.3 745.2L2081.1 749.3L2081.9 753.5L2082.7 756.9L2083.5 758.4L2084.3 761.6L2085.1 760.9L2085.9 762.1L2086.7 761.0L2087.5 760.5L2088.3 762.6L2089.1 763.1L2089.9 762.7L2090.7 762.6L2091.5 762.5L2092.3 763.4L2093.1 762.9L2093.9 763.8L2094.7 764.4L2095.5 761.9L2096.3 761.8L2097.1 762.0L2097.9 761.6L2098.7 761.3L2099.5 762.8L2100.3 763.8L2101.1 762.9L2101.9 761.8L2102.7 764.3L2103.5 765.2L2104.3 763.8L2105.1 762.1L2105.9 763.1L2106.7 767.0L2107.5 767.5L2108.3 765.0L2109.1 763.4L2109.9 765.4L2110.7 765.6L2111.5 766.1L2112.3 764.1L2113.1 764.2L2113.9 764.2L2114.7 764.6L2115.5 763.8L2116.3 764.8L2117.1 763.4L2117.9 762.8L2118.7 764.5L2119.5 763.6L2120.3 761.1L2121.1 763.0L2121.9 764.2L2122.7 765.3L2123.5 766.7L2124.3 764.0L2125.1 762.8L2125.9 760.9L2126.7 760.8L2127.5 762.4L2128.3 763.4L2129.1 763.9L2129.9 765.1L2130.7 765.8L2131.5 765.7L2132.3 764.4L2133.1 764.2L2133.9 763.3L2134.7 764.3L2135.5 764.5L2136.3 761.9L2137.1 758.7L2137.9 762.6L2138.7 767.1L2139.5 764.6L2140.3 762.9L2141.1 764.1L2141.9 765.5L2142.7 764.5L2143.5 762.7L2144.3 761.3L2145.1 761.5L2145.9 761.0L2146.7 762.7L2147.5 763.9L2148.3 761.9L2149.1 758.1L2149.9 755.6L2150.6 755.1L2150.7 757.3L2151.0 758.2L2151.4 758.5L2151.5 757.4L2152.3 755.7L2153.1 756.6L2153.9 760.6L2154.7 761.6L2155.5 763.4L2156.3 760.1L2157.1 760.1L2157.9 761.6L2158.7 763.7L2159.5 764.3L2160.3 763.4L2161.1 763.6L2161.9 761.9L2162.7 761.8L2163.5 761.5L2164.3 762.1L2165.1 762.7L2165.9 765.5L2166.7 768.2L2167.5 763.4L2168.3 763.2L2169.1 764.7L2169.9 764.9L2170.7 765.4L2171.5 763.4L2172.3 764.0L2173.1 763.4L2173.9 764.7L2174.7 764.5L2175.5 763.9L2176.3 762.2L2177.1 760.3L2177.9 761.6L2178.7 764.1L2179.5 764.0L2180.3 764.0L2181.1 762.5L2181.9 764.4L2182.7 764.3L2183.5 761.1L2184.3 763.9L2185.1 766.0L2185.9 763.6L2186.7 764.1L2187.5 763.4L2188.3 762.7L2189.1 760.0L2189.9 757.9L2190.1 758.1L2190.5 758.0L2190.7 757.7L2190.9 758.2L2191.5 760.6L2192.3 760.2L2193.1 759.7L2193.9 761.1L2194.7 762.3L2195.5 760.6L2196.3 763.4L2197.1 765.3L2197.9 765.5L2198.7 763.1L2199.5 762.2L2200.3 763.4L2201.1 764.3L2201.9 765.3L2202.7 763.7L2203.5 761.8L2204.3 760.7L2205.1 761.9L2205.9 763.3L2206.7 764.4L2207.5 763.8L2208.3 764.9L2209.1 764.2L2209.9 761.0L2210.7 759.6L2211.5 760.2L2212.3 760.6L2213.1 760.5L2213.9 762.2L2214.7 762.9L2215.5 763.1L2216.3 761.5L2217.1 760.2L2217.9 760.2L2218.7 759.0L2219.5 759.1L2220.3 758.8L2221.1 758.8L2221.9 755.3L2222.7 757.3L2223.5 757.0L2224.3 753.9L2225.1 751.2L2225.9 748.1L2226.7 745.1L2227.5 740.7L2228.3 735.7L2229.1 733.1L2229.2 731.9L2229.6 731.8L2229.9 731.8L2230.0 731.0L2230.7 733.4L2231.5 737.1L2232.3 741.8L2233.1 744.3L2233.9 746.6" fill="none" stroke="#ff4040" stroke-width="6" stroke-linejoin="round" stroke-linecap="round"/>
<rect x="103.5" y="19.7" width="2130.9" height="1566.0" fill="none" stroke="#000" stroke-width="8"/>
<path d="M255.7 1582V1555.7M407.9 1582V1570.7M560.1 1582V1555.7M712.3 1582V1570.7M864.5 1582V1555.7M1016.7 1582V1570.7M1169.0 1582V1555.7M1321.2 1582V1570.7M1473.4 1582V1555.7M1625.6 1582V1570.7M1777.8 1582V1555.7M1930.0 1582V1570.7M2082.2 1582V1555.7" stroke="#000" stroke-width="7.6" fill="none"/>
<text x="255.7" y="1669" font-size="67" text-anchor="middle">10</text>
<text x="560.1" y="1669" font-size="67" text-anchor="middle">20</text>
<text x="864.5" y="1669" font-size="67" text-anchor="middle">30</text>
<text x="1169.0" y="1669" font-size="67" text-anchor="middle">40</text>
<text x="1473.4" y="1669" font-size="67" text-anchor="middle">50</text>
<text x="1777.8" y="1669" font-size="67" text-anchor="middle">60</text>
<text x="2082.2" y="1669" font-size="67" text-anchor="middle">70</text>
<text y="1743" font-size="86"><tspan x="1067.5">2</tspan><tspan x="1172.3" font-size="84">(°)</tspan></text>
<text transform="translate(1113.6 1743) skewX(-9) scale(1.05 1)" font-size="86" font-style="italic">θ</text>
<text transform="translate(76 1039.6) rotate(-90)" font-size="81.3">Intensity (arb.u.)</text>
<text y="143.8" font-size="67"><tspan x="120.2">(a)</tspan><tspan x="210.6">Experimental</tspan><tspan x="584">Zr</tspan><tspan x="647.8" y="161" font-size="45">3</tspan><tspan x="670.85" y="143.8">CdC</tspan><tspan x="791.2" y="161" font-size="45">2</tspan></text>
<text y="895" font-size="67"><tspan x="120.2">(b)</tspan><tspan x="213.85">Calculated</tspan><tspan x="514">Zr</tspan><tspan x="577.5" y="911.1" font-size="45">3</tspan><tspan x="600.05" y="895">CdC</tspan><tspan x="722.1" y="911.1" font-size="45">2</tspan></text>
<g fill="#ff0000">
<ellipse cx="1836.3" cy="108.6" rx="8.3" ry="8.8"/><ellipse cx="1825.0" cy="123.1" rx="7.9" ry="8.2"/><ellipse cx="1847.7" cy="123.1" rx="7.9" ry="8.2"/><polygon points="1833.7,114.6 1839.0,114.6 1838.9,117.6 1841.7,118.3 1844.0,122.1 1841.7,125.0 1838.9,125.8 1833.8,125.8 1831.0,125.0 1828.6,122.1 1831.0,118.3 1833.8,117.6"/><path d="M1838.9 124.3 C1838.3 131.3 1839.0 133.9 1840.4 136.9 L1832.3 136.9 C1833.7 133.9 1834.4 131.3 1833.8 124.3 Z"/>
<polygon points="1836.4,180.0 1851.4,199.3 1836.4,218.6 1821.4,199.3"/>
<path d="M1835.5 265.8 C1836.2 265.8 1836.6 264.3 1837.1 262.4 C1838.6 258.0 1841.7 256.9 1845.1 256.9 C1850.2 256.9 1852.6 261.3 1852.6 266.1 C1852.6 270.2 1850.6 274.2 1847.5 277.6 L1835.5 293.8 L1823.6 277.6 C1820.5 274.2 1818.5 270.2 1818.5 266.1 C1818.5 261.3 1820.9 256.9 1826.0 256.9 C1829.4 256.9 1832.5 258.0 1834.0 262.4 C1834.5 264.3 1834.9 265.8 1835.5 265.8 Z"/>
<circle cx="1833.9" cy="343.0" r="11.5"/>
<path d="M1832.9 399.0 L1846.3 416.8 C1850.8 422.5 1850.8 429.3 1845.3 433.3 C1841.2 435.8 1837.8 431.6 1835.9 427.0 C1834.7 429.3 1834.4 433.1 1836.9 436.9 L1828.9 436.9 C1831.5 433.1 1831.1 429.3 1829.9 427.0 C1828.0 431.6 1824.6 435.8 1820.5 433.3 C1815.0 429.3 1815.0 422.5 1819.5 416.8 Z"/>
</g>
<g fill="#ff0000" font-size="67">
<text x="1893" y="143">ZrC</text>
<text x="1893" y="224.6">ZrCd<tspan font-size="46.5" y="242.5">2</tspan></text>
<text x="1893" y="300.3">Zr</text>
<text x="1895.2" y="375.9">C</text>
<text x="1893" y="446">Unknown</text>
</g>
<g fill="#ff0000">
<circle cx="761.9" cy="731.3" r="11.8"/>
<path d="M784.0 641.3 L799.0 660.7 C804.0 666.9 804.0 674.3 797.9 678.7 C793.3 681.4 789.5 676.8 787.4 671.9 C786.0 674.3 785.6 678.5 788.5 682.6 L779.5 682.6 C782.4 678.5 782.0 674.3 780.7 671.9 C778.5 676.8 774.7 681.4 770.1 678.7 C764.0 674.3 764.0 666.9 769.0 660.7 Z"/>
<path d="M882.7 671.3 L897.7 690.7 C902.7 696.9 902.7 704.3 896.6 708.7 C892.0 711.4 888.2 706.8 886.1 701.9 C884.7 704.3 884.3 708.5 887.2 712.6 L878.2 712.6 C881.1 708.5 880.7 704.3 879.4 701.9 C877.2 706.8 873.4 711.4 868.8 708.7 C862.7 704.3 862.7 696.9 867.7 690.7 Z"/>
<path d="M1301.3 597.9 L1316.3 617.3 C1321.3 623.5 1321.3 630.9 1315.2 635.3 C1310.6 638.0 1306.8 633.4 1304.7 628.5 C1303.3 630.9 1302.9 635.1 1305.8 639.2 L1296.8 639.2 C1299.7 635.1 1299.3 630.9 1298.0 628.5 C1295.8 633.4 1292.0 638.0 1287.4 635.3 C1281.3 630.9 1281.3 623.5 1286.3 617.3 Z"/>
<path d="M1602.1 585.7 L1617.1 605.1 C1622.1 611.3 1622.1 618.7 1616.0 623.1 C1611.4 625.8 1607.6 621.2 1605.5 616.3 C1604.1 618.7 1603.7 622.9 1606.6 627.0 L1597.6 627.0 C1600.5 622.9 1600.1 618.7 1598.8 616.3 C1596.6 621.2 1592.8 625.8 1588.2 623.1 C1582.1 618.7 1582.1 611.3 1587.1 605.1 Z"/>
<path d="M1818.2 640.8 L1833.2 660.2 C1838.2 666.4 1838.2 673.8 1832.1 678.2 C1827.5 680.9 1823.7 676.3 1821.6 671.4 C1820.2 673.8 1819.8 678.0 1822.7 682.1 L1813.7 682.1 C1816.6 678.0 1816.2 673.8 1814.9 671.4 C1812.7 676.3 1808.9 680.9 1804.3 678.2 C1798.2 673.8 1798.2 666.4 1803.2 660.2 Z"/>
<path d="M1863.5 661.2 L1878.5 680.6 C1883.5 686.8 1883.5 694.2 1877.4 698.6 C1872.8 701.3 1869.0 696.7 1866.9 691.8 C1865.5 694.2 1865.1 698.4 1868.0 702.5 L1859.0 702.5 C1861.9 698.4 1861.5 694.2 1860.2 691.8 C1858.0 696.7 1854.2 701.3 1849.6 698.6 C1843.5 694.2 1843.5 686.8 1848.5 680.6 Z"/>
<path d="M1998.0 585.7 L2013.0 605.1 C2018.0 611.3 2018.0 618.7 2011.9 623.1 C2007.3 625.8 2003.5 621.2 2001.4 616.3 C2000.0 618.7 1999.6 622.9 2002.5 627.0 L1993.5 627.0 C1996.4 622.9 1996.0 618.7 1994.7 616.3 C1992.5 621.2 1988.7 625.8 1984.1 623.1 C1978.0 618.7 1978.0 611.3 1983.0 605.1 Z"/>
<ellipse cx="973.4" cy="330.2" rx="9.2" ry="9.2"/><ellipse cx="960.9" cy="345.5" rx="8.7" ry="8.6"/><ellipse cx="985.9" cy="345.5" rx="8.7" ry="8.6"/><polygon points="970.4,336.6 976.4,336.6 976.2,339.7 979.4,340.5 981.9,344.4 979.4,347.5 976.2,348.3 970.6,348.3 967.4,347.5 964.9,344.4 967.4,340.5 970.6,339.7"/><path d="M976.2 346.7 C975.5 354.1 976.4 356.9 977.9 360.0 L968.9 360.0 C970.4 356.9 971.3 354.1 970.6 346.7 Z"/>
<ellipse cx="1131.5" cy="527.2" rx="9.2" ry="9.2"/><ellipse cx="1118.9" cy="542.5" rx="8.7" ry="8.6"/><ellipse cx="1144.0" cy="542.5" rx="8.7" ry="8.6"/><polygon points="1128.5,533.6 1134.4,533.6 1134.2,536.7 1137.4,537.5 1140.0,541.4 1137.4,544.5 1134.2,545.3 1128.7,545.3 1125.5,544.5 1123.0,541.4 1125.5,537.5 1128.7,536.7"/><path d="M1134.2 543.7 C1133.6 551.1 1134.4 553.9 1135.9 557.0 L1127.0 557.0 C1128.5 553.9 1129.3 551.1 1128.7 543.7 Z"/>
<ellipse cx="1642.2" cy="642.0" rx="9.2" ry="9.2"/><ellipse cx="1629.7" cy="657.3" rx="8.7" ry="8.6"/><ellipse cx="1654.7" cy="657.3" rx="8.7" ry="8.6"/><polygon points="1639.2,648.4 1645.2,648.4 1645.0,651.5 1648.2,652.3 1650.7,656.2 1648.2,659.3 1645.0,660.1 1639.4,660.1 1636.2,659.3 1633.7,656.2 1636.2,652.3 1639.4,651.5"/><path d="M1645.0 658.5 C1644.3 665.9 1645.2 668.7 1646.7 671.8 L1637.7 671.8 C1639.2 668.7 1640.1 665.9 1639.4 658.5 Z"/>
<ellipse cx="1964.8" cy="657.0" rx="9.2" ry="9.2"/><ellipse cx="1952.3" cy="672.3" rx="8.7" ry="8.6"/><ellipse cx="1977.3" cy="672.3" rx="8.7" ry="8.6"/><polygon points="1961.8,663.4 1967.8,663.4 1967.6,666.5 1970.8,667.3 1973.3,671.2 1970.8,674.3 1967.6,675.1 1962.0,675.1 1958.8,674.3 1956.3,671.2 1958.8,667.3 1962.0,666.5"/><path d="M1967.6 673.5 C1966.9 680.9 1967.8 683.7 1969.3 686.8 L1960.3 686.8 C1961.8 683.7 1962.7 680.9 1962.0 673.5 Z"/>
<ellipse cx="2067.9" cy="672.5" rx="9.2" ry="9.2"/><ellipse cx="2055.4" cy="687.8" rx="8.7" ry="8.6"/><ellipse cx="2080.4" cy="687.8" rx="8.7" ry="8.6"/><polygon points="2064.9,678.9 2070.9,678.9 2070.7,682.0 2073.8,682.8 2076.4,686.7 2073.8,689.8 2070.7,690.6 2065.1,690.6 2062.0,689.8 2059.4,686.7 2062.0,682.8 2065.1,682.0"/><path d="M2070.7 689.0 C2070.0 696.4 2070.9 699.2 2072.4 702.3 L2063.4 702.3 C2064.9 699.2 2065.8 696.4 2065.1 689.0 Z"/>
<polygon points="1028.1,89.0 1044.7,110.0 1028.1,131.0 1011.5,110.0"/>
<polygon points="1220.9,622.6 1237.5,643.6 1220.9,664.6 1204.3,643.6"/>
<polygon points="1782.0,649.8 1798.6,670.8 1782.0,691.8 1765.4,670.8"/>
<path d="M1072.1 415.8 C1072.9 415.8 1073.2 414.2 1073.8 412.2 C1075.5 407.4 1079.0 406.2 1082.8 406.2 C1088.6 406.2 1091.2 411.0 1091.2 416.2 C1091.2 420.6 1089.0 425.0 1085.5 428.6 L1072.1 446.2 L1058.7 428.6 C1055.2 425.0 1052.9 420.6 1052.9 416.2 C1052.9 411.0 1055.6 406.2 1061.4 406.2 C1065.2 406.2 1068.7 407.4 1070.4 412.2 C1071.0 414.2 1071.3 415.8 1072.1 415.8 Z"/>
<path d="M1417.4 705.6 C1418.2 705.6 1418.5 704.0 1419.1 702.0 C1420.8 697.2 1424.3 696.0 1428.1 696.0 C1433.9 696.0 1436.5 700.8 1436.5 706.0 C1436.5 710.4 1434.3 714.8 1430.8 718.4 L1417.4 736.0 L1404.0 718.4 C1400.5 714.8 1398.2 710.4 1398.2 706.0 C1398.2 700.8 1400.9 696.0 1406.7 696.0 C1410.5 696.0 1414.0 697.2 1415.7 702.0 C1416.3 704.0 1416.6 705.6 1417.4 705.6 Z"/>
</g>
<g fill="#000">
<text transform="translate(266.3 737.1) rotate(-90)" font-size="67">(002)</text>
<text transform="translate(564.0 747.7) rotate(-90)" font-size="67">(004)</text>
<text transform="translate(238.3 1514.3) rotate(-90)" font-size="67">(002)</text>
<text transform="translate(508.3 1506.9) rotate(-90)" font-size="67">(004)</text>
<text transform="translate(772.2 1504.4) rotate(-90)" font-size="67">(006)</text>
<text transform="translate(852.2 1433.0) rotate(-90)" font-size="67">(100)</text>
<text transform="translate(928.4 1398.5) rotate(-90)" font-size="67">(101)</text>
<text transform="translate(965.3 1195.9) rotate(-90)" font-size="67">(102)</text>
<text transform="translate(1002.8 1439.8) rotate(-90)" font-size="67">(103)</text>
<text transform="translate(1035.3 1306.2) rotate(-90)" font-size="67">(008)</text>
<text transform="translate(1067.2 889.7) rotate(-90)" font-size="67">(104)</text>
<text transform="translate(1142.2 1410.5) rotate(-90)" font-size="67">(105)</text>
<text transform="translate(1231.3 1511.7) rotate(-90)" font-size="67">(106)</text>
<text transform="translate(1320.3 1469.5) rotate(-90)" font-size="67">(107)</text>
<text transform="translate(1427.3 1466.4) rotate(-90)" font-size="67">(108)</text>
<text transform="translate(1534.7 1486.6) rotate(-90)" font-size="67">(109)</text>
<text transform="translate(1611.3 1510.5) rotate(-90)" font-size="67">(0012)</text>
<text transform="translate(1659.1 1375.1) rotate(-90)" font-size="67">(110)</text>
<text transform="translate(1693.0 1506.5) rotate(-90)" font-size="67">(112)</text>
<text transform="translate(1785.5 1501.6) rotate(-90)" font-size="67">(1011)</text>
<text transform="translate(1907.2 1441.0) rotate(-90)" font-size="67">(1012)</text>
<text transform="translate(1960.6 1511.3) rotate(-90)" font-size="67">(201)</text>
<text transform="translate(2022.4 1421.3) rotate(-90)" font-size="67">(118)</text>
<text transform="translate(2063.2 1248.4) rotate(-90)" font-size="67">(204)</text>
<text transform="translate(2143.3 1263.9) rotate(-90)" font-size="67">(1013)</text>
<text transform="translate(2082.9 1509.9) rotate(-90)" font-size="67">(205)</text>
<text transform="translate(2185.5 1509.9) rotate(-90)" font-size="67">(207)</text>
</g>
<g stroke="#000" stroke-width="2" fill="none">
<path d="M866.4 1433.4L885.8 1462.4"/>
<path d="M945.6 1208.7L937 1490.7"/>
<path d="M1025.4 1316.8L1025.4 1374.8"/>
<path d="M2040.7 1258.2L2015.4 1445.2"/>
<path d="M2106.8 1268L2026.6 1477.5"/>
</g>
</svg></body></html>
